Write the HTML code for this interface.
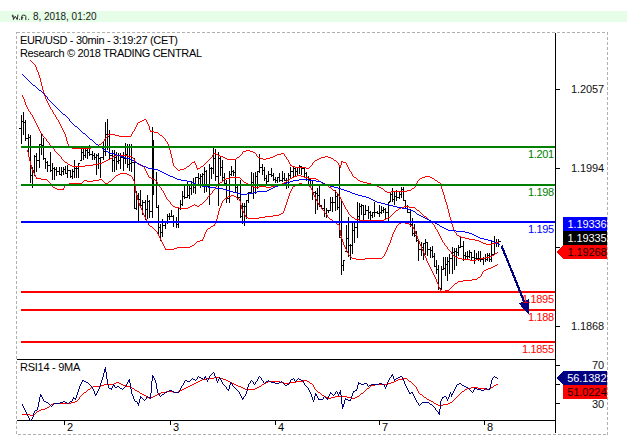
<!DOCTYPE html>
<html><head><meta charset="utf-8"><title>chart</title>
<style>
html,body{margin:0;padding:0;background:#fff;}
body{width:627px;height:448px;overflow:hidden;position:relative;font-family:"Liberation Sans",sans-serif;}
#hdr{position:absolute;left:0;top:11px;width:627px;height:11px;background:#e6fde7;}
#hdr span{position:absolute;left:12px;top:0px;font-size:10px;line-height:11px;color:#222;white-space:nowrap;}
svg{position:absolute;left:0;top:0;}
text{font-family:"Liberation Sans",sans-serif;}
</style></head><body>
<div id="hdr"></div>
<svg width="627" height="448" viewBox="0 0 627 448">
<!-- header date (Thai month abbrev drawn as strokes) -->
<g fill="none" stroke="#2a2a2a" stroke-width="1" stroke-linecap="round" stroke-linejoin="round">
<path d="M13.3 16.2a0.7 0.7 0 1 1 -0.2 -0.9L13.4 19.6L15.3 16.3L17.2 19.6L17.9 15"/>
<path d="M22.9 17.6a0.6 0.6 0 1 0 -0.9 0.6L21.7 19.7V16.4Q21.7 15.1 23.7 15.1Q25.8 15.1 25.8 16.4V19.7"/>
</g>
<g fill="#2a2a2a"><rect x="19.1" y="18.8" width="1" height="1"/><rect x="28.1" y="18.8" width="1" height="1"/></g>
<text x="33" y="19.8" font-size="10px" fill="#1a1a1a" textLength="63.5" lengthAdjust="spacing">8, 2018, 01:20</text>
<!-- dashed frame -->
<g fill="none" stroke="#b0b0b0" stroke-width="1" stroke-dasharray="3,2" shape-rendering="crispEdges">
<path d="M16.5 32.5H607.5V434.5H16.5Z"/>
</g>
<!-- bars -->
<g fill="#000" shape-rendering="crispEdges">
<rect x="21" y="115" width="1" height="29"/>
<rect x="23" y="112" width="1" height="23"/>
<rect x="25" y="120" width="1" height="21"/>
<rect x="28" y="134" width="1" height="23"/>
<rect x="30" y="135" width="1" height="48"/>
<rect x="32" y="167" width="1" height="21"/>
<rect x="34" y="155" width="1" height="21"/>
<rect x="36" y="153" width="1" height="19"/>
<rect x="39" y="144" width="1" height="24"/>
<rect x="41" y="134" width="1" height="21"/>
<rect x="43" y="138" width="1" height="22"/>
<rect x="45" y="158" width="1" height="11"/>
<rect x="47" y="161" width="1" height="11"/>
<rect x="50" y="152" width="1" height="20"/>
<rect x="52" y="163" width="1" height="17"/>
<rect x="54" y="167" width="1" height="13"/>
<rect x="56" y="167" width="1" height="9"/>
<rect x="59" y="167" width="1" height="8"/>
<rect x="61" y="167" width="1" height="9"/>
<rect x="63" y="167" width="1" height="8"/>
<rect x="65" y="166" width="1" height="8"/>
<rect x="67" y="165" width="1" height="13"/>
<rect x="70" y="170" width="1" height="8"/>
<rect x="72" y="169" width="1" height="10"/>
<rect x="74" y="160" width="1" height="18"/>
<rect x="76" y="167" width="1" height="11"/>
<rect x="78" y="163" width="1" height="15"/>
<rect x="81" y="149" width="1" height="12"/>
<rect x="83" y="147" width="1" height="13"/>
<rect x="85" y="148" width="1" height="10"/>
<rect x="87" y="147" width="1" height="12"/>
<rect x="89" y="145" width="1" height="11"/>
<rect x="92" y="151" width="1" height="9"/>
<rect x="94" y="153" width="1" height="7"/>
<rect x="96" y="154" width="1" height="21"/>
<rect x="98" y="153" width="1" height="16"/>
<rect x="100" y="157" width="1" height="21"/>
<rect x="103" y="142" width="1" height="18"/>
<rect x="105" y="122" width="1" height="34"/>
<rect x="107" y="119" width="1" height="31"/>
<rect x="109" y="130" width="1" height="30"/>
<rect x="112" y="150" width="1" height="22"/>
<rect x="114" y="150" width="1" height="22"/>
<rect x="116" y="152" width="1" height="18"/>
<rect x="118" y="153" width="1" height="11"/>
<rect x="120" y="153" width="1" height="16"/>
<rect x="123" y="152" width="1" height="19"/>
<rect x="125" y="143" width="1" height="21"/>
<rect x="127" y="144" width="1" height="24"/>
<rect x="129" y="144" width="1" height="27"/>
<rect x="131" y="144" width="1" height="28"/>
<rect x="134" y="158" width="1" height="51"/>
<rect x="136" y="191" width="1" height="19"/>
<rect x="138" y="193" width="1" height="28"/>
<rect x="140" y="190" width="1" height="18"/>
<rect x="142" y="200" width="1" height="15"/>
<rect x="145" y="200" width="1" height="20"/>
<rect x="147" y="195" width="1" height="24"/>
<rect x="149" y="200" width="1" height="18"/>
<rect x="152" y="127" width="1" height="91"/>
<rect x="153" y="140" width="1" height="55"/>
<rect x="156" y="172" width="1" height="36"/>
<rect x="158" y="205" width="1" height="31"/>
<rect x="160" y="224" width="1" height="17"/>
<rect x="162" y="219" width="1" height="18"/>
<rect x="165" y="221" width="1" height="8"/>
<rect x="167" y="214" width="1" height="10"/>
<rect x="169" y="213" width="1" height="7"/>
<rect x="171" y="210" width="1" height="7"/>
<rect x="173" y="215" width="1" height="12"/>
<rect x="176" y="217" width="1" height="11"/>
<rect x="178" y="208" width="1" height="20"/>
<rect x="180" y="200" width="1" height="10"/>
<rect x="182" y="191" width="1" height="15"/>
<rect x="184" y="186" width="1" height="13"/>
<rect x="187" y="181" width="1" height="17"/>
<rect x="189" y="185" width="1" height="14"/>
<rect x="191" y="181" width="1" height="14"/>
<rect x="193" y="178" width="1" height="15"/>
<rect x="195" y="177" width="1" height="17"/>
<rect x="198" y="173" width="1" height="11"/>
<rect x="200" y="174" width="1" height="14"/>
<rect x="202" y="173" width="1" height="11"/>
<rect x="204" y="167" width="1" height="26"/>
<rect x="206" y="170" width="1" height="22"/>
<rect x="209" y="164" width="1" height="41"/>
<rect x="211" y="167" width="1" height="12"/>
<rect x="213" y="148" width="1" height="26"/>
<rect x="215" y="149" width="1" height="32"/>
<rect x="218" y="152" width="1" height="54"/>
<rect x="220" y="156" width="1" height="20"/>
<rect x="222" y="160" width="1" height="21"/>
<rect x="224" y="173" width="1" height="11"/>
<rect x="226" y="180" width="1" height="23"/>
<rect x="229" y="171" width="1" height="32"/>
<rect x="231" y="166" width="1" height="10"/>
<rect x="233" y="170" width="1" height="6"/>
<rect x="235" y="159" width="1" height="33"/>
<rect x="237" y="185" width="1" height="15"/>
<rect x="240" y="180" width="1" height="38"/>
<rect x="242" y="203" width="1" height="21"/>
<rect x="244" y="203" width="1" height="23"/>
<rect x="246" y="200" width="1" height="19"/>
<rect x="248" y="192" width="1" height="11"/>
<rect x="251" y="172" width="1" height="21"/>
<rect x="253" y="173" width="1" height="26"/>
<rect x="255" y="172" width="1" height="22"/>
<rect x="257" y="171" width="1" height="18"/>
<rect x="259" y="154" width="1" height="19"/>
<rect x="262" y="164" width="1" height="11"/>
<rect x="264" y="167" width="1" height="14"/>
<rect x="266" y="175" width="1" height="9"/>
<rect x="268" y="171" width="1" height="11"/>
<rect x="271" y="168" width="1" height="9"/>
<rect x="273" y="173" width="1" height="8"/>
<rect x="275" y="177" width="1" height="6"/>
<rect x="277" y="177" width="1" height="6"/>
<rect x="279" y="173" width="1" height="9"/>
<rect x="282" y="171" width="1" height="11"/>
<rect x="284" y="173" width="1" height="8"/>
<rect x="286" y="178" width="1" height="11"/>
<rect x="288" y="173" width="1" height="15"/>
<rect x="290" y="167" width="1" height="12"/>
<rect x="293" y="167" width="1" height="11"/>
<rect x="295" y="167" width="1" height="9"/>
<rect x="297" y="167" width="1" height="8"/>
<rect x="299" y="165" width="1" height="9"/>
<rect x="301" y="166" width="1" height="9"/>
<rect x="304" y="167" width="1" height="11"/>
<rect x="306" y="172" width="1" height="9"/>
<rect x="308" y="176" width="1" height="8"/>
<rect x="310" y="179" width="1" height="5"/>
<rect x="312" y="180" width="1" height="20"/>
<rect x="315" y="191" width="1" height="23"/>
<rect x="317" y="188" width="1" height="22"/>
<rect x="319" y="185" width="1" height="22"/>
<rect x="321" y="205" width="1" height="4"/>
<rect x="324" y="199" width="1" height="18"/>
<rect x="326" y="208" width="1" height="10"/>
<rect x="328" y="210" width="1" height="3"/>
<rect x="330" y="197" width="1" height="14"/>
<rect x="332" y="197" width="1" height="15"/>
<rect x="335" y="190" width="1" height="21"/>
<rect x="337" y="194" width="1" height="16"/>
<rect x="339" y="167" width="1" height="71"/>
<rect x="341" y="199" width="1" height="76"/>
<rect x="343" y="260" width="1" height="11"/>
<rect x="346" y="225" width="1" height="27"/>
<rect x="348" y="217" width="1" height="40"/>
<rect x="350" y="244" width="1" height="16"/>
<rect x="352" y="223" width="1" height="31"/>
<rect x="354" y="223" width="1" height="20"/>
<rect x="357" y="202" width="1" height="36"/>
<rect x="359" y="203" width="1" height="17"/>
<rect x="361" y="204" width="1" height="11"/>
<rect x="363" y="205" width="1" height="15"/>
<rect x="365" y="205" width="1" height="10"/>
<rect x="368" y="206" width="1" height="13"/>
<rect x="370" y="211" width="1" height="9"/>
<rect x="372" y="212" width="1" height="6"/>
<rect x="374" y="202" width="1" height="15"/>
<rect x="377" y="211" width="1" height="3"/>
<rect x="379" y="205" width="1" height="12"/>
<rect x="381" y="206" width="1" height="8"/>
<rect x="383" y="207" width="1" height="6"/>
<rect x="385" y="208" width="1" height="12"/>
<rect x="388" y="202" width="1" height="19"/>
<rect x="390" y="192" width="1" height="10"/>
<rect x="392" y="188" width="1" height="14"/>
<rect x="394" y="191" width="1" height="14"/>
<rect x="396" y="190" width="1" height="11"/>
<rect x="399" y="192" width="1" height="7"/>
<rect x="401" y="187" width="1" height="11"/>
<rect x="403" y="187" width="1" height="14"/>
<rect x="405" y="200" width="1" height="9"/>
<rect x="407" y="205" width="1" height="8"/>
<rect x="410" y="209" width="1" height="18"/>
<rect x="412" y="218" width="1" height="18"/>
<rect x="414" y="224" width="1" height="13"/>
<rect x="416" y="231" width="1" height="11"/>
<rect x="418" y="240" width="1" height="21"/>
<rect x="421" y="242" width="1" height="14"/>
<rect x="423" y="243" width="1" height="17"/>
<rect x="425" y="239" width="1" height="16"/>
<rect x="427" y="242" width="1" height="14"/>
<rect x="430" y="247" width="1" height="11"/>
<rect x="432" y="246" width="1" height="12"/>
<rect x="434" y="253" width="1" height="14"/>
<rect x="436" y="260" width="1" height="14"/>
<rect x="438" y="265" width="1" height="25"/>
<rect x="441" y="266" width="1" height="24"/>
<rect x="443" y="257" width="1" height="13"/>
<rect x="445" y="257" width="1" height="19"/>
<rect x="447" y="257" width="1" height="24"/>
<rect x="449" y="254" width="1" height="20"/>
<rect x="452" y="247" width="1" height="27"/>
<rect x="454" y="248" width="1" height="22"/>
<rect x="456" y="248" width="1" height="18"/>
<rect x="458" y="245" width="1" height="11"/>
<rect x="460" y="237" width="1" height="11"/>
<rect x="463" y="241" width="1" height="20"/>
<rect x="465" y="252" width="1" height="8"/>
<rect x="467" y="251" width="1" height="8"/>
<rect x="469" y="250" width="1" height="8"/>
<rect x="471" y="252" width="1" height="8"/>
<rect x="474" y="250" width="1" height="14"/>
<rect x="476" y="253" width="1" height="7"/>
<rect x="478" y="251" width="1" height="10"/>
<rect x="480" y="251" width="1" height="11"/>
<rect x="483" y="257" width="1" height="8"/>
<rect x="485" y="254" width="1" height="8"/>
<rect x="487" y="253" width="1" height="8"/>
<rect x="489" y="253" width="1" height="9"/>
<rect x="491" y="241" width="1" height="21"/>
<rect x="494" y="236" width="1" height="19"/>
<rect x="496" y="239" width="1" height="8"/>
<rect x="498" y="239" width="1" height="8"/>
<rect x="19" y="128" width="2" height="1"/>
<rect x="22" y="121" width="1" height="1"/>
<rect x="24" y="122" width="1" height="1"/>
<rect x="26" y="138" width="2" height="1"/>
<rect x="29" y="137" width="1" height="1"/>
<rect x="31" y="175" width="1" height="1"/>
<rect x="33" y="170" width="1" height="1"/>
<rect x="35" y="156" width="1" height="1"/>
<rect x="37" y="160" width="2" height="1"/>
<rect x="40" y="144" width="1" height="1"/>
<rect x="42" y="145" width="1" height="1"/>
<rect x="44" y="158" width="1" height="1"/>
<rect x="46" y="162" width="1" height="1"/>
<rect x="48" y="165" width="2" height="1"/>
<rect x="51" y="170" width="1" height="1"/>
<rect x="53" y="168" width="1" height="1"/>
<rect x="55" y="169" width="1" height="1"/>
<rect x="57" y="171" width="2" height="1"/>
<rect x="60" y="174" width="1" height="1"/>
<rect x="62" y="171" width="1" height="1"/>
<rect x="64" y="169" width="1" height="1"/>
<rect x="66" y="173" width="1" height="1"/>
<rect x="68" y="170" width="2" height="1"/>
<rect x="71" y="176" width="1" height="1"/>
<rect x="73" y="171" width="1" height="1"/>
<rect x="75" y="168" width="1" height="1"/>
<rect x="77" y="168" width="1" height="1"/>
<rect x="79" y="163" width="1" height="1"/>
<rect x="80" y="160" width="1" height="1"/>
<rect x="82" y="152" width="1" height="1"/>
<rect x="84" y="155" width="1" height="1"/>
<rect x="86" y="150" width="1" height="1"/>
<rect x="88" y="152" width="1" height="1"/>
<rect x="90" y="154" width="2" height="1"/>
<rect x="93" y="155" width="1" height="1"/>
<rect x="95" y="157" width="1" height="1"/>
<rect x="97" y="155" width="1" height="1"/>
<rect x="99" y="158" width="1" height="1"/>
<rect x="101" y="157" width="2" height="1"/>
<rect x="104" y="151" width="1" height="1"/>
<rect x="106" y="134" width="1" height="1"/>
<rect x="108" y="136" width="1" height="1"/>
<rect x="110" y="155" width="2" height="1"/>
<rect x="113" y="160" width="1" height="1"/>
<rect x="115" y="157" width="1" height="1"/>
<rect x="117" y="161" width="1" height="1"/>
<rect x="119" y="160" width="1" height="1"/>
<rect x="121" y="157" width="2" height="1"/>
<rect x="124" y="158" width="1" height="1"/>
<rect x="126" y="154" width="1" height="1"/>
<rect x="128" y="164" width="1" height="1"/>
<rect x="130" y="163" width="1" height="1"/>
<rect x="132" y="162" width="2" height="1"/>
<rect x="135" y="208" width="1" height="1"/>
<rect x="137" y="195" width="1" height="1"/>
<rect x="139" y="199" width="1" height="1"/>
<rect x="141" y="205" width="1" height="1"/>
<rect x="143" y="202" width="2" height="1"/>
<rect x="146" y="209" width="1" height="1"/>
<rect x="148" y="201" width="1" height="1"/>
<rect x="150" y="211" width="2" height="1"/>
<rect x="153" y="181" width="0" height="1"/>
<rect x="154" y="185" width="2" height="1"/>
<rect x="157" y="207" width="1" height="1"/>
<rect x="159" y="227" width="1" height="1"/>
<rect x="161" y="232" width="1" height="1"/>
<rect x="163" y="225" width="2" height="1"/>
<rect x="166" y="222" width="1" height="1"/>
<rect x="168" y="216" width="1" height="1"/>
<rect x="170" y="216" width="1" height="1"/>
<rect x="172" y="216" width="1" height="1"/>
<rect x="174" y="221" width="2" height="1"/>
<rect x="177" y="224" width="1" height="1"/>
<rect x="179" y="208" width="1" height="1"/>
<rect x="181" y="204" width="1" height="1"/>
<rect x="183" y="196" width="1" height="1"/>
<rect x="185" y="197" width="2" height="1"/>
<rect x="188" y="195" width="1" height="1"/>
<rect x="190" y="188" width="1" height="1"/>
<rect x="192" y="185" width="1" height="1"/>
<rect x="194" y="187" width="1" height="1"/>
<rect x="196" y="177" width="2" height="1"/>
<rect x="199" y="178" width="1" height="1"/>
<rect x="201" y="176" width="1" height="1"/>
<rect x="203" y="174" width="1" height="1"/>
<rect x="205" y="171" width="1" height="1"/>
<rect x="207" y="186" width="2" height="1"/>
<rect x="210" y="168" width="1" height="1"/>
<rect x="212" y="168" width="1" height="1"/>
<rect x="214" y="158" width="1" height="1"/>
<rect x="216" y="176" width="2" height="1"/>
<rect x="219" y="158" width="1" height="1"/>
<rect x="221" y="167" width="1" height="1"/>
<rect x="223" y="177" width="1" height="1"/>
<rect x="225" y="183" width="1" height="1"/>
<rect x="227" y="198" width="2" height="1"/>
<rect x="230" y="174" width="1" height="1"/>
<rect x="232" y="171" width="1" height="1"/>
<rect x="234" y="172" width="1" height="1"/>
<rect x="236" y="187" width="1" height="1"/>
<rect x="238" y="197" width="2" height="1"/>
<rect x="241" y="216" width="1" height="1"/>
<rect x="243" y="206" width="1" height="1"/>
<rect x="245" y="206" width="1" height="1"/>
<rect x="247" y="200" width="1" height="1"/>
<rect x="249" y="192" width="2" height="1"/>
<rect x="252" y="182" width="1" height="1"/>
<rect x="254" y="185" width="1" height="1"/>
<rect x="256" y="176" width="1" height="1"/>
<rect x="258" y="171" width="1" height="1"/>
<rect x="260" y="167" width="2" height="1"/>
<rect x="263" y="170" width="1" height="1"/>
<rect x="265" y="178" width="1" height="1"/>
<rect x="267" y="181" width="1" height="1"/>
<rect x="269" y="174" width="2" height="1"/>
<rect x="272" y="175" width="1" height="1"/>
<rect x="274" y="179" width="1" height="1"/>
<rect x="276" y="180" width="1" height="1"/>
<rect x="278" y="177" width="1" height="1"/>
<rect x="280" y="180" width="2" height="1"/>
<rect x="283" y="178" width="1" height="1"/>
<rect x="285" y="180" width="1" height="1"/>
<rect x="287" y="185" width="1" height="1"/>
<rect x="289" y="175" width="1" height="1"/>
<rect x="291" y="171" width="2" height="1"/>
<rect x="294" y="168" width="1" height="1"/>
<rect x="296" y="171" width="1" height="1"/>
<rect x="298" y="167" width="1" height="1"/>
<rect x="300" y="166" width="1" height="1"/>
<rect x="302" y="168" width="2" height="1"/>
<rect x="305" y="173" width="1" height="1"/>
<rect x="307" y="177" width="1" height="1"/>
<rect x="309" y="179" width="1" height="1"/>
<rect x="311" y="180" width="1" height="1"/>
<rect x="313" y="192" width="2" height="1"/>
<rect x="316" y="193" width="1" height="1"/>
<rect x="318" y="195" width="1" height="1"/>
<rect x="320" y="205" width="1" height="1"/>
<rect x="322" y="208" width="2" height="1"/>
<rect x="325" y="213" width="1" height="1"/>
<rect x="327" y="210" width="1" height="1"/>
<rect x="329" y="210" width="1" height="1"/>
<rect x="331" y="202" width="1" height="1"/>
<rect x="333" y="202" width="2" height="1"/>
<rect x="336" y="196" width="1" height="1"/>
<rect x="338" y="207" width="1" height="1"/>
<rect x="340" y="237" width="1" height="1"/>
<rect x="342" y="265" width="1" height="1"/>
<rect x="344" y="260" width="1" height="1"/>
<rect x="345" y="251" width="1" height="1"/>
<rect x="347" y="238" width="1" height="1"/>
<rect x="349" y="245" width="1" height="1"/>
<rect x="351" y="245" width="1" height="1"/>
<rect x="353" y="230" width="1" height="1"/>
<rect x="355" y="227" width="2" height="1"/>
<rect x="358" y="216" width="1" height="1"/>
<rect x="360" y="206" width="1" height="1"/>
<rect x="362" y="205" width="1" height="1"/>
<rect x="364" y="214" width="1" height="1"/>
<rect x="366" y="210" width="2" height="1"/>
<rect x="369" y="212" width="1" height="1"/>
<rect x="371" y="215" width="1" height="1"/>
<rect x="373" y="212" width="1" height="1"/>
<rect x="375" y="212" width="2" height="1"/>
<rect x="378" y="213" width="1" height="1"/>
<rect x="380" y="212" width="1" height="1"/>
<rect x="382" y="210" width="1" height="1"/>
<rect x="384" y="209" width="1" height="1"/>
<rect x="386" y="212" width="2" height="1"/>
<rect x="389" y="202" width="1" height="1"/>
<rect x="389" y="201" width="1" height="1"/>
<rect x="391" y="194" width="1" height="1"/>
<rect x="393" y="199" width="1" height="1"/>
<rect x="395" y="196" width="1" height="1"/>
<rect x="397" y="197" width="2" height="1"/>
<rect x="400" y="194" width="1" height="1"/>
<rect x="402" y="189" width="1" height="1"/>
<rect x="404" y="200" width="1" height="1"/>
<rect x="406" y="208" width="1" height="1"/>
<rect x="408" y="212" width="2" height="1"/>
<rect x="411" y="224" width="1" height="1"/>
<rect x="413" y="233" width="1" height="1"/>
<rect x="415" y="235" width="1" height="1"/>
<rect x="417" y="240" width="1" height="1"/>
<rect x="419" y="249" width="2" height="1"/>
<rect x="422" y="247" width="1" height="1"/>
<rect x="424" y="243" width="1" height="1"/>
<rect x="426" y="242" width="1" height="1"/>
<rect x="428" y="249" width="2" height="1"/>
<rect x="431" y="250" width="1" height="1"/>
<rect x="433" y="256" width="1" height="1"/>
<rect x="435" y="266" width="1" height="1"/>
<rect x="437" y="269" width="1" height="1"/>
<rect x="439" y="288" width="2" height="1"/>
<rect x="442" y="269" width="1" height="1"/>
<rect x="444" y="268" width="1" height="1"/>
<rect x="446" y="264" width="1" height="1"/>
<rect x="448" y="261" width="1" height="1"/>
<rect x="450" y="258" width="2" height="1"/>
<rect x="453" y="252" width="1" height="1"/>
<rect x="455" y="251" width="1" height="1"/>
<rect x="457" y="252" width="1" height="1"/>
<rect x="459" y="247" width="1" height="1"/>
<rect x="461" y="246" width="2" height="1"/>
<rect x="464" y="255" width="1" height="1"/>
<rect x="466" y="256" width="1" height="1"/>
<rect x="468" y="256" width="1" height="1"/>
<rect x="470" y="252" width="1" height="1"/>
<rect x="472" y="257" width="2" height="1"/>
<rect x="475" y="258" width="1" height="1"/>
<rect x="477" y="258" width="1" height="1"/>
<rect x="479" y="258" width="1" height="1"/>
<rect x="481" y="259" width="2" height="1"/>
<rect x="484" y="258" width="1" height="1"/>
<rect x="486" y="259" width="1" height="1"/>
<rect x="488" y="255" width="1" height="1"/>
<rect x="490" y="259" width="1" height="1"/>
<rect x="492" y="254" width="2" height="1"/>
<rect x="495" y="242" width="1" height="1"/>
<rect x="497" y="242" width="1" height="1"/>
<rect x="499" y="241" width="2" height="1"/>
</g>
<!-- curves -->
<g shape-rendering="crispEdges">
<path fill="#ff0000" d="M30 60h1v1h-1zM31 61h1v1h-1zM32 62h1v1h-1zM33 63h1v1h-1zM34 64h1v1h-1zM35 65h1v2h-1zM36 67h1v3h-1zM37 70h1v2h-1zM38 72h1v3h-1zM39 75h1v3h-1zM40 78h1v4h-1zM41 82h1v4h-1zM42 86h1v4h-1zM43 90h1v3h-1zM44 93h1v3h-1zM45 96h1v3h-1zM46 99h1v2h-1zM47 101h1v2h-1zM48 103h1v2h-1zM49 105h1v2h-1zM50 107h1v2h-1zM51 109h1v1h-1zM52 110h1v2h-1zM53 112h1v2h-1zM54 114h1v1h-1zM55 115h1v2h-1zM56 117h1v2h-1zM57 119h1v1h-1zM58 120h1v2h-1zM59 122h1v2h-1zM60 124h1v2h-1zM61 126h1v2h-1zM62 128h1v2h-1zM63 130h1v2h-1zM64 132h1v2h-1zM65 134h1v3h-1zM66 137h1v4h-1zM67 141h1v3h-1zM68 144h1v2h-1zM69 146h1v1h-1zM70 147h1v1h-1zM71 147h1v1h-1zM72 148h1v1h-1zM73 148h1v1h-1zM74 148h1v1h-1zM75 148h1v1h-1zM76 148h1v1h-1zM77 148h1v1h-1zM78 148h1v1h-1zM79 148h1v1h-1zM80 148h1v1h-1zM81 148h1v1h-1zM82 148h1v1h-1zM83 148h1v1h-1zM84 148h1v1h-1zM85 148h1v1h-1zM86 148h1v1h-1zM87 148h1v1h-1zM88 148h1v1h-1zM89 148h1v1h-1zM90 148h1v1h-1zM91 147h1v1h-1zM92 147h1v1h-1zM93 147h1v1h-1zM94 147h1v1h-1zM95 147h1v1h-1zM96 147h1v1h-1zM97 146h1v1h-1zM98 145h1v1h-1zM99 144h1v1h-1zM100 144h1v1h-1zM101 143h1v1h-1zM102 142h1v1h-1zM103 141h1v1h-1zM104 139h1v2h-1zM105 138h1v1h-1zM106 137h1v1h-1zM107 135h1v2h-1zM108 134h1v1h-1zM109 134h1v1h-1zM110 134h1v1h-1zM111 134h1v1h-1zM112 134h1v1h-1zM113 134h1v1h-1zM114 134h1v1h-1zM115 135h1v1h-1zM116 135h1v1h-1zM117 135h1v1h-1zM118 135h1v1h-1zM119 136h1v1h-1zM120 136h1v1h-1zM121 136h1v1h-1zM122 136h1v1h-1zM123 136h1v1h-1zM124 136h1v1h-1zM125 136h1v1h-1zM126 136h1v1h-1zM127 136h1v1h-1zM128 136h1v1h-1zM129 136h1v1h-1zM130 136h1v1h-1zM131 134h1v2h-1zM132 132h1v2h-1zM133 131h1v1h-1zM134 129h1v2h-1zM135 127h1v2h-1zM136 125h1v2h-1zM137 123h1v2h-1zM138 122h1v1h-1zM139 122h1v1h-1zM140 121h1v1h-1zM141 121h1v1h-1zM142 120h1v1h-1zM143 120h1v1h-1zM144 119h1v1h-1zM145 119h1v1h-1zM146 120h1v2h-1zM147 122h1v2h-1zM148 124h1v2h-1zM149 126h1v4h-1zM150 130h1v2h-1zM151 131h1v1h-1zM152 131h1v1h-1zM153 131h1v1h-1zM154 132h1v1h-1zM155 132h1v1h-1zM156 132h1v1h-1zM157 132h1v1h-1zM158 133h1v1h-1zM159 134h1v1h-1zM160 135h1v1h-1zM161 135h1v1h-1zM162 136h1v1h-1zM163 137h1v1h-1zM164 138h1v1h-1zM165 139h1v2h-1zM166 141h1v1h-1zM167 142h1v2h-1zM168 144h1v2h-1zM169 146h1v4h-1zM170 150h1v4h-1zM171 154h1v4h-1zM172 158h1v5h-1zM173 163h1v3h-1zM174 166h1v1h-1zM175 167h1v1h-1zM176 168h1v1h-1zM177 169h1v1h-1zM178 170h1v1h-1zM179 170h1v1h-1zM180 169h1v1h-1zM181 169h1v1h-1zM182 169h1v1h-1zM183 169h1v1h-1zM184 168h1v1h-1zM185 168h1v1h-1zM186 167h1v1h-1zM187 166h1v1h-1zM188 166h1v1h-1zM189 165h1v1h-1zM190 164h1v1h-1zM191 163h1v1h-1zM192 162h1v1h-1zM193 162h1v1h-1zM194 161h1v2h-1zM195 163h1v2h-1zM196 165h1v3h-1zM197 168h1v2h-1zM198 168h1v1h-1zM199 168h1v1h-1zM200 167h1v1h-1zM201 166h1v1h-1zM202 166h1v1h-1zM203 165h1v1h-1zM204 164h1v1h-1zM205 163h1v1h-1zM206 162h1v1h-1zM207 161h1v1h-1zM208 160h1v1h-1zM209 159h1v1h-1zM210 158h1v1h-1zM211 157h1v1h-1zM212 155h1v2h-1zM213 154h1v1h-1zM214 153h1v1h-1zM215 153h1v1h-1zM216 154h1v1h-1zM217 154h1v1h-1zM218 155h1v1h-1zM219 155h1v1h-1zM220 156h1v1h-1zM221 156h1v1h-1zM222 156h1v1h-1zM223 157h1v1h-1zM224 157h1v1h-1zM225 158h1v1h-1zM226 158h1v1h-1zM227 159h1v1h-1zM228 159h1v1h-1zM229 159h1v1h-1zM230 159h1v1h-1zM231 159h1v1h-1zM232 159h1v1h-1zM233 159h1v1h-1zM234 159h1v1h-1zM235 159h1v1h-1zM236 158h1v1h-1zM237 157h1v1h-1zM238 157h1v1h-1zM239 156h1v1h-1zM240 155h1v1h-1zM241 154h1v1h-1zM242 152h1v2h-1zM243 151h1v1h-1zM244 151h1v1h-1zM245 151h1v1h-1zM246 150h1v1h-1zM247 150h1v1h-1zM248 150h1v1h-1zM249 150h1v1h-1zM250 151h1v1h-1zM251 151h1v1h-1zM252 151h1v1h-1zM253 152h1v1h-1zM254 152h1v1h-1zM255 153h1v1h-1zM256 154h1v2h-1zM257 156h1v1h-1zM258 157h1v1h-1zM259 157h1v1h-1zM260 158h1v1h-1zM261 158h1v1h-1zM262 158h1v1h-1zM263 159h1v1h-1zM264 159h1v1h-1zM265 159h1v1h-1zM266 158h1v1h-1zM267 158h1v1h-1zM268 158h1v1h-1zM269 158h1v1h-1zM270 157h1v1h-1zM271 157h1v1h-1zM272 157h1v1h-1zM273 156h1v1h-1zM274 156h1v1h-1zM275 155h1v1h-1zM276 155h1v1h-1zM277 154h1v1h-1zM278 154h1v1h-1zM279 154h1v1h-1zM280 154h1v1h-1zM281 153h1v1h-1zM282 153h1v1h-1zM283 153h1v1h-1zM284 154h1v2h-1zM285 156h1v1h-1zM286 157h1v2h-1zM287 159h1v1h-1zM288 160h1v2h-1zM289 162h1v2h-1zM290 164h1v2h-1zM291 165h1v1h-1zM292 166h1v1h-1zM293 166h1v1h-1zM294 166h1v1h-1zM295 167h1v1h-1zM296 167h1v1h-1zM297 167h1v1h-1zM298 167h1v1h-1zM299 167h1v1h-1zM300 167h1v1h-1zM301 167h1v1h-1zM302 167h1v1h-1zM303 167h1v1h-1zM304 167h1v1h-1zM305 167h1v1h-1zM306 168h1v1h-1zM307 168h1v1h-1zM308 168h1v1h-1zM309 167h1v1h-1zM310 166h1v1h-1zM311 165h1v1h-1zM312 163h1v2h-1zM313 162h1v1h-1zM314 161h1v1h-1zM315 160h1v1h-1zM316 160h1v1h-1zM317 159h1v1h-1zM318 159h1v1h-1zM319 158h1v1h-1zM320 158h1v1h-1zM321 157h1v1h-1zM322 157h1v1h-1zM323 157h1v1h-1zM324 157h1v1h-1zM325 156h1v1h-1zM326 156h1v1h-1zM327 156h1v1h-1zM328 157h1v1h-1zM329 157h1v1h-1zM330 157h1v1h-1zM331 158h1v1h-1zM332 158h1v1h-1zM333 159h1v1h-1zM334 160h1v1h-1zM335 160h1v1h-1zM336 161h1v1h-1zM337 162h1v1h-1zM338 163h1v2h-1zM339 165h1v2h-1zM340 165h1v3h-1zM341 161h1v4h-1zM342 161h1v1h-1zM343 162h1v1h-1zM344 162h1v1h-1zM345 162h1v1h-1zM346 163h1v2h-1zM347 165h1v2h-1zM348 167h1v2h-1zM349 169h1v2h-1zM350 171h1v1h-1zM351 172h1v2h-1zM352 174h1v2h-1zM353 176h1v1h-1zM354 177h1v1h-1zM355 177h1v1h-1zM356 178h1v1h-1zM357 179h1v1h-1zM358 180h1v1h-1zM359 180h1v1h-1zM360 181h1v1h-1zM361 181h1v1h-1zM362 181h1v1h-1zM363 182h1v1h-1zM364 182h1v1h-1zM365 182h1v1h-1zM366 182h1v1h-1zM367 183h1v1h-1zM368 183h1v1h-1zM369 183h1v1h-1zM370 183h1v1h-1zM371 184h1v1h-1zM372 184h1v1h-1zM373 184h1v1h-1zM374 185h1v1h-1zM375 185h1v1h-1zM376 185h1v1h-1zM377 186h1v1h-1zM378 186h1v1h-1zM379 187h1v1h-1zM380 187h1v1h-1zM381 188h1v1h-1zM382 188h1v1h-1zM383 189h1v1h-1zM384 190h1v1h-1zM385 191h1v1h-1zM386 191h1v1h-1zM387 192h1v1h-1zM388 192h1v1h-1zM389 192h1v1h-1zM390 192h1v1h-1zM391 191h1v1h-1zM392 191h1v1h-1zM393 191h1v1h-1zM394 191h1v1h-1zM395 191h1v1h-1zM396 191h1v1h-1zM397 191h1v1h-1zM398 191h1v1h-1zM399 191h1v1h-1zM400 191h1v1h-1zM401 191h1v1h-1zM402 191h1v1h-1zM403 191h1v1h-1zM404 191h1v1h-1zM405 191h1v1h-1zM406 191h1v1h-1zM407 190h1v1h-1zM408 190h1v1h-1zM409 190h1v1h-1zM410 190h1v1h-1zM411 189h1v1h-1zM412 188h1v1h-1zM413 188h1v1h-1zM414 187h1v1h-1zM415 185h1v2h-1zM416 183h1v2h-1zM417 181h1v2h-1zM418 180h1v1h-1zM419 179h1v1h-1zM420 178h1v1h-1zM421 178h1v1h-1zM422 177h1v1h-1zM423 177h1v1h-1zM424 177h1v1h-1zM425 176h1v1h-1zM426 176h1v1h-1zM427 176h1v1h-1zM428 176h1v1h-1zM429 176h1v1h-1zM430 177h1v1h-1zM431 177h1v1h-1zM432 178h1v1h-1zM433 178h1v1h-1zM434 179h1v1h-1zM435 180h1v1h-1zM436 180h1v1h-1zM437 181h1v1h-1zM438 182h1v1h-1zM439 182h1v1h-1zM440 183h1v2h-1zM441 185h1v4h-1zM442 189h1v3h-1zM443 192h1v3h-1zM444 195h1v4h-1zM445 199h1v3h-1zM446 202h1v3h-1zM447 205h1v4h-1zM448 209h1v4h-1zM449 213h1v4h-1zM450 217h1v3h-1zM451 220h1v4h-1zM452 224h1v3h-1zM453 227h1v3h-1zM454 230h1v2h-1zM455 232h1v1h-1zM456 233h1v2h-1zM457 235h1v1h-1zM458 235h1v1h-1zM459 236h1v1h-1zM460 236h1v1h-1zM461 237h1v1h-1zM462 237h1v1h-1zM463 237h1v1h-1zM464 237h1v1h-1zM465 238h1v1h-1zM466 238h1v1h-1zM467 238h1v1h-1zM468 238h1v1h-1zM469 239h1v1h-1zM470 239h1v1h-1zM471 239h1v1h-1zM472 239h1v1h-1zM473 239h1v1h-1zM474 239h1v1h-1zM475 240h1v1h-1zM476 240h1v1h-1zM477 240h1v1h-1zM478 240h1v1h-1zM479 241h1v1h-1zM480 241h1v1h-1zM481 242h1v1h-1zM482 242h1v1h-1zM483 243h1v1h-1zM484 243h1v1h-1zM485 243h1v1h-1zM486 244h1v1h-1zM487 244h1v1h-1zM488 244h1v1h-1zM489 244h1v1h-1zM490 244h1v1h-1zM491 244h1v1h-1zM492 243h1v1h-1zM493 243h1v1h-1zM494 243h1v1h-1zM495 243h1v1h-1zM496 242h1v1h-1zM497 242h1v1h-1zM498 242h1v1h-1z"/>
<path fill="#ff0000" d="M22 95h1v2h-1zM23 97h1v2h-1zM24 99h1v3h-1zM25 102h1v3h-1zM26 105h1v2h-1zM27 107h1v2h-1zM28 109h1v2h-1zM29 111h1v1h-1zM30 112h1v2h-1zM31 114h1v1h-1zM32 115h1v2h-1zM33 117h1v2h-1zM34 119h1v2h-1zM35 121h1v2h-1zM36 123h1v2h-1zM37 125h1v2h-1zM38 127h1v2h-1zM39 129h1v2h-1zM40 131h1v2h-1zM41 133h1v1h-1zM42 134h1v2h-1zM43 136h1v1h-1zM44 137h1v1h-1zM45 138h1v1h-1zM46 139h1v2h-1zM47 141h1v1h-1zM48 142h1v1h-1zM49 143h1v2h-1zM50 145h1v1h-1zM51 146h1v1h-1zM52 147h1v1h-1zM53 148h1v1h-1zM54 149h1v2h-1zM55 151h1v1h-1zM56 152h1v1h-1zM57 153h1v1h-1zM58 154h1v1h-1zM59 155h1v1h-1zM60 156h1v1h-1zM61 157h1v2h-1zM62 159h1v1h-1zM63 160h1v1h-1zM64 161h1v1h-1zM65 162h1v1h-1zM66 162h1v1h-1zM67 163h1v1h-1zM68 164h1v1h-1zM69 164h1v1h-1zM70 165h1v1h-1zM71 165h1v1h-1zM72 166h1v1h-1zM73 166h1v1h-1zM74 166h1v1h-1zM75 166h1v1h-1zM76 166h1v1h-1zM77 166h1v1h-1zM78 166h1v1h-1zM79 166h1v1h-1zM80 166h1v1h-1zM81 166h1v1h-1zM82 166h1v1h-1zM83 166h1v1h-1zM84 166h1v1h-1zM85 165h1v1h-1zM86 165h1v1h-1zM87 165h1v1h-1zM88 165h1v1h-1zM89 165h1v1h-1zM90 165h1v1h-1zM91 165h1v1h-1zM92 165h1v1h-1zM93 164h1v1h-1zM94 164h1v1h-1zM95 164h1v1h-1zM96 164h1v1h-1zM97 164h1v1h-1zM98 163h1v1h-1zM99 163h1v1h-1zM100 163h1v1h-1zM101 163h1v1h-1zM102 162h1v1h-1zM103 162h1v1h-1zM104 161h1v1h-1zM105 161h1v1h-1zM106 160h1v1h-1zM107 160h1v1h-1zM108 159h1v1h-1zM109 159h1v1h-1zM110 158h1v1h-1zM111 158h1v1h-1zM112 157h1v1h-1zM113 156h1v1h-1zM114 156h1v1h-1zM115 155h1v1h-1zM116 155h1v1h-1zM117 155h1v1h-1zM118 155h1v1h-1zM119 155h1v1h-1zM120 155h1v1h-1zM121 155h1v1h-1zM122 155h1v1h-1zM123 155h1v1h-1zM124 155h1v1h-1zM125 155h1v1h-1zM126 155h1v1h-1zM127 155h1v1h-1zM128 156h1v1h-1zM129 156h1v1h-1zM130 156h1v1h-1zM131 156h1v1h-1zM132 157h1v1h-1zM133 158h1v1h-1zM134 159h1v2h-1zM135 161h1v1h-1zM136 162h1v1h-1zM137 163h1v1h-1zM138 164h1v1h-1zM139 164h1v1h-1zM140 165h1v1h-1zM141 165h1v1h-1zM142 166h1v1h-1zM143 166h1v1h-1zM144 167h1v2h-1zM145 169h1v2h-1zM146 171h1v2h-1zM147 173h1v2h-1zM148 175h1v2h-1zM149 177h1v1h-1zM150 177h1v1h-1zM151 178h1v1h-1zM152 178h1v1h-1zM153 179h1v1h-1zM154 179h1v1h-1zM155 180h1v1h-1zM156 181h1v1h-1zM157 182h1v2h-1zM158 184h1v1h-1zM159 185h1v2h-1zM160 187h1v1h-1zM161 188h1v2h-1zM162 190h1v1h-1zM163 191h1v2h-1zM164 193h1v2h-1zM165 195h1v2h-1zM166 197h1v2h-1zM167 199h1v1h-1zM168 200h1v1h-1zM169 201h1v1h-1zM170 202h1v2h-1zM171 204h1v1h-1zM172 205h1v1h-1zM173 206h1v1h-1zM174 206h1v1h-1zM175 207h1v1h-1zM176 207h1v1h-1zM177 207h1v1h-1zM178 207h1v1h-1zM179 208h1v1h-1zM180 208h1v1h-1zM181 208h1v1h-1zM182 208h1v1h-1zM183 208h1v1h-1zM184 208h1v1h-1zM185 208h1v1h-1zM186 208h1v1h-1zM187 208h1v1h-1zM188 207h1v1h-1zM189 207h1v1h-1zM190 206h1v1h-1zM191 206h1v1h-1zM192 205h1v1h-1zM193 205h1v1h-1zM194 204h1v1h-1zM195 205h1v1h-1zM196 205h1v1h-1zM197 206h1v1h-1zM198 206h1v1h-1zM199 205h1v1h-1zM200 204h1v1h-1zM201 204h1v1h-1zM202 203h1v1h-1zM203 202h1v1h-1zM204 201h1v1h-1zM205 200h1v1h-1zM206 199h1v1h-1zM207 197h1v2h-1zM208 196h1v1h-1zM209 195h1v1h-1zM210 194h1v1h-1zM211 193h1v1h-1zM212 191h1v2h-1zM213 190h1v1h-1zM214 189h1v1h-1zM215 187h1v2h-1zM216 186h1v1h-1zM217 185h1v1h-1zM218 184h1v1h-1zM219 183h1v1h-1zM220 182h1v1h-1zM221 182h1v1h-1zM222 181h1v1h-1zM223 180h1v1h-1zM224 179h1v1h-1zM225 179h1v1h-1zM226 178h1v1h-1zM227 178h1v1h-1zM228 178h1v1h-1zM229 178h1v1h-1zM230 177h1v1h-1zM231 177h1v1h-1zM232 177h1v1h-1zM233 177h1v1h-1zM234 177h1v1h-1zM235 177h1v1h-1zM236 177h1v1h-1zM237 177h1v1h-1zM238 177h1v1h-1zM239 177h1v1h-1zM240 178h1v1h-1zM241 179h1v1h-1zM242 180h1v1h-1zM243 181h1v1h-1zM244 182h1v1h-1zM245 182h1v1h-1zM246 183h1v1h-1zM247 183h1v1h-1zM248 184h1v1h-1zM249 184h1v1h-1zM250 185h1v1h-1zM251 185h1v1h-1zM252 186h1v1h-1zM253 186h1v1h-1zM254 187h1v1h-1zM255 187h1v1h-1zM256 187h1v1h-1zM257 187h1v1h-1zM258 187h1v1h-1zM259 186h1v1h-1zM260 186h1v1h-1zM261 186h1v1h-1zM262 186h1v1h-1zM263 186h1v1h-1zM264 186h1v1h-1zM265 186h1v1h-1zM266 187h1v1h-1zM267 187h1v1h-1zM268 187h1v1h-1zM269 187h1v1h-1zM270 187h1v1h-1zM271 186h1v1h-1zM272 186h1v1h-1zM273 186h1v1h-1zM274 186h1v1h-1zM275 185h1v1h-1zM276 185h1v1h-1zM277 185h1v1h-1zM278 184h1v1h-1zM279 184h1v1h-1zM280 184h1v1h-1zM281 184h1v1h-1zM282 183h1v1h-1zM283 183h1v1h-1zM284 182h1v1h-1zM285 182h1v1h-1zM286 181h1v1h-1zM287 180h1v1h-1zM288 180h1v1h-1zM289 179h1v1h-1zM290 178h1v1h-1zM291 178h1v1h-1zM292 177h1v1h-1zM293 177h1v1h-1zM294 176h1v1h-1zM295 176h1v1h-1zM296 176h1v1h-1zM297 175h1v1h-1zM298 175h1v1h-1zM299 175h1v1h-1zM300 175h1v1h-1zM301 176h1v1h-1zM302 176h1v1h-1zM303 176h1v1h-1zM304 177h1v1h-1zM305 177h1v1h-1zM306 177h1v1h-1zM307 177h1v1h-1zM308 178h1v1h-1zM309 178h1v1h-1zM310 178h1v1h-1zM311 178h1v1h-1zM312 178h1v1h-1zM313 178h1v1h-1zM314 178h1v1h-1zM315 178h1v1h-1zM316 179h1v1h-1zM317 179h1v1h-1zM318 180h1v1h-1zM319 181h1v1h-1zM320 181h1v1h-1zM321 182h1v1h-1zM322 183h1v1h-1zM323 183h1v1h-1zM324 184h1v1h-1zM325 184h1v1h-1zM326 185h1v1h-1zM327 185h1v1h-1zM328 186h1v1h-1zM329 187h1v1h-1zM330 187h1v1h-1zM331 188h1v1h-1zM332 189h1v1h-1zM333 190h1v1h-1zM334 190h1v1h-1zM335 191h1v1h-1zM336 192h1v1h-1zM337 193h1v1h-1zM338 194h1v2h-1zM339 196h1v1h-1zM340 197h1v2h-1zM341 199h1v2h-1zM342 201h1v2h-1zM343 203h1v2h-1zM344 205h1v2h-1zM345 207h1v2h-1zM346 209h1v1h-1zM347 210h1v2h-1zM348 212h1v2h-1zM349 214h1v1h-1zM350 215h1v1h-1zM351 216h1v1h-1zM352 217h1v1h-1zM353 217h1v1h-1zM354 218h1v1h-1zM355 219h1v1h-1zM356 219h1v1h-1zM357 219h1v1h-1zM358 219h1v1h-1zM359 220h1v1h-1zM360 220h1v1h-1zM361 220h1v1h-1zM362 220h1v1h-1zM363 220h1v1h-1zM364 220h1v1h-1zM365 220h1v1h-1zM366 220h1v1h-1zM367 220h1v1h-1zM368 220h1v1h-1zM369 220h1v1h-1zM370 220h1v1h-1zM371 220h1v1h-1zM372 220h1v1h-1zM373 220h1v1h-1zM374 220h1v1h-1zM375 220h1v1h-1zM376 220h1v1h-1zM377 220h1v1h-1zM378 220h1v1h-1zM379 220h1v1h-1zM380 220h1v1h-1zM381 220h1v1h-1zM382 220h1v1h-1zM383 220h1v1h-1zM384 219h1v1h-1zM385 219h1v1h-1zM386 218h1v1h-1zM387 218h1v1h-1zM388 217h1v1h-1zM389 217h1v1h-1zM390 216h1v1h-1zM391 215h1v1h-1zM392 214h1v1h-1zM393 213h1v1h-1zM394 212h1v1h-1zM395 211h1v1h-1zM396 210h1v1h-1zM397 210h1v1h-1zM398 209h1v1h-1zM399 208h1v1h-1zM400 208h1v1h-1zM401 207h1v1h-1zM402 207h1v1h-1zM403 207h1v1h-1zM404 206h1v1h-1zM405 206h1v1h-1zM406 206h1v1h-1zM407 206h1v1h-1zM408 206h1v1h-1zM409 207h1v1h-1zM410 207h1v1h-1zM411 207h1v1h-1zM412 207h1v1h-1zM413 207h1v1h-1zM414 207h1v1h-1zM415 208h1v1h-1zM416 209h1v1h-1zM417 210h1v1h-1zM418 210h1v1h-1zM419 211h1v1h-1zM420 212h1v1h-1zM421 213h1v1h-1zM422 214h1v1h-1zM423 215h1v1h-1zM424 216h1v1h-1zM425 216h1v1h-1zM426 217h1v1h-1zM427 218h1v1h-1zM428 219h1v1h-1zM429 220h1v1h-1zM430 221h1v1h-1zM431 222h1v1h-1zM432 223h1v1h-1zM433 224h1v1h-1zM434 225h1v2h-1zM435 227h1v2h-1zM436 229h1v1h-1zM437 230h1v2h-1zM438 232h1v2h-1zM439 234h1v2h-1zM440 236h1v2h-1zM441 238h1v2h-1zM442 240h1v2h-1zM443 242h1v1h-1zM444 243h1v2h-1zM445 245h1v1h-1zM446 246h1v1h-1zM447 247h1v2h-1zM448 249h1v1h-1zM449 250h1v1h-1zM450 251h1v1h-1zM451 252h1v2h-1zM452 254h1v1h-1zM453 255h1v1h-1zM454 256h1v1h-1zM455 256h1v1h-1zM456 257h1v1h-1zM457 257h1v1h-1zM458 258h1v1h-1zM459 258h1v1h-1zM460 258h1v1h-1zM461 258h1v1h-1zM462 259h1v1h-1zM463 259h1v1h-1zM464 259h1v1h-1zM465 259h1v1h-1zM466 259h1v1h-1zM467 259h1v1h-1zM468 259h1v1h-1zM469 259h1v1h-1zM470 260h1v1h-1zM471 260h1v1h-1zM472 260h1v1h-1zM473 260h1v1h-1zM474 260h1v1h-1zM475 260h1v1h-1zM476 259h1v1h-1zM477 259h1v1h-1zM478 259h1v1h-1zM479 259h1v1h-1zM480 258h1v1h-1zM481 258h1v1h-1zM482 258h1v1h-1zM483 258h1v1h-1zM484 258h1v1h-1zM485 257h1v1h-1zM486 257h1v1h-1zM487 257h1v1h-1zM488 257h1v1h-1zM489 257h1v1h-1zM490 256h1v1h-1zM491 256h1v1h-1zM492 255h1v1h-1zM493 255h1v1h-1zM494 254h1v1h-1zM495 253h1v1h-1zM496 253h1v1h-1zM497 252h1v1h-1z"/>
<path fill="#ff0000" d="M27 150h1v2h-1zM28 152h1v5h-1zM29 157h1v4h-1zM30 161h1v4h-1zM31 165h1v4h-1zM32 169h1v2h-1zM33 171h1v2h-1zM34 173h1v2h-1zM35 175h1v2h-1zM36 177h1v2h-1zM37 178h1v1h-1zM38 178h1v1h-1zM39 178h1v1h-1zM40 178h1v1h-1zM41 179h1v1h-1zM42 179h1v1h-1zM43 179h1v1h-1zM44 179h1v1h-1zM45 179h1v1h-1zM46 179h1v1h-1zM47 180h1v1h-1zM48 181h1v1h-1zM49 182h1v1h-1zM50 183h1v1h-1zM51 184h1v2h-1zM52 186h1v1h-1zM53 187h1v1h-1zM54 187h1v1h-1zM55 188h1v1h-1zM56 188h1v1h-1zM57 189h1v1h-1zM58 189h1v1h-1zM59 189h1v1h-1zM60 189h1v1h-1zM61 189h1v1h-1zM62 189h1v1h-1zM63 188h1v2h-1zM64 186h1v2h-1zM65 185h1v1h-1zM66 185h1v1h-1zM67 184h1v1h-1zM68 184h1v1h-1zM69 183h1v1h-1zM70 183h1v1h-1zM71 183h1v1h-1zM72 183h1v1h-1zM73 183h1v1h-1zM74 183h1v1h-1zM75 183h1v1h-1zM76 183h1v1h-1zM77 183h1v1h-1zM78 183h1v1h-1zM79 183h1v1h-1zM80 183h1v1h-1zM81 183h1v1h-1zM82 182h1v1h-1zM83 181h1v1h-1zM84 180h1v1h-1zM85 180h1v1h-1zM86 180h1v1h-1zM87 181h1v1h-1zM88 181h1v1h-1zM89 181h1v1h-1zM90 181h1v1h-1zM91 181h1v1h-1zM92 181h1v1h-1zM93 180h1v1h-1zM94 180h1v1h-1zM95 180h1v1h-1zM96 180h1v1h-1zM97 180h1v1h-1zM98 180h1v1h-1zM99 179h1v1h-1zM100 179h1v1h-1zM101 179h1v1h-1zM102 180h1v1h-1zM103 181h1v1h-1zM104 182h1v1h-1zM105 183h1v1h-1zM106 183h1v1h-1zM107 183h1v1h-1zM108 182h1v1h-1zM109 181h1v1h-1zM110 181h1v1h-1zM111 180h1v1h-1zM112 179h1v1h-1zM113 178h1v1h-1zM114 177h1v1h-1zM115 176h1v1h-1zM116 175h1v1h-1zM117 175h1v1h-1zM118 174h1v1h-1zM119 174h1v1h-1zM120 173h1v1h-1zM121 173h1v1h-1zM122 173h1v1h-1zM123 173h1v1h-1zM124 173h1v1h-1zM125 173h1v1h-1zM126 173h1v1h-1zM127 174h1v1h-1zM128 174h1v1h-1zM129 175h1v1h-1zM130 175h1v1h-1zM131 176h1v1h-1zM132 177h1v2h-1zM133 179h1v2h-1zM134 181h1v5h-1zM135 186h1v7h-1zM136 193h1v3h-1zM137 196h1v4h-1zM138 200h1v3h-1zM139 203h1v3h-1zM140 206h1v2h-1zM141 208h1v2h-1zM142 210h1v3h-1zM143 213h1v2h-1zM144 215h1v2h-1zM145 217h1v2h-1zM146 219h1v2h-1zM147 221h1v2h-1zM148 223h1v2h-1zM149 225h1v1h-1zM150 226h1v1h-1zM151 226h1v1h-1zM152 227h1v1h-1zM153 228h1v1h-1zM154 229h1v1h-1zM155 230h1v1h-1zM156 231h1v1h-1zM157 232h1v2h-1zM158 234h1v2h-1zM159 236h1v2h-1zM160 238h1v2h-1zM161 240h1v2h-1zM162 242h1v2h-1zM163 244h1v2h-1zM164 246h1v2h-1zM165 248h1v2h-1zM166 249h1v1h-1zM167 249h1v1h-1zM168 249h1v1h-1zM169 249h1v1h-1zM170 249h1v1h-1zM171 249h1v1h-1zM172 249h1v1h-1zM173 249h1v1h-1zM174 248h1v1h-1zM175 248h1v1h-1zM176 248h1v1h-1zM177 247h1v1h-1zM178 247h1v1h-1zM179 247h1v1h-1zM180 247h1v1h-1zM181 247h1v1h-1zM182 247h1v1h-1zM183 247h1v1h-1zM184 247h1v1h-1zM185 247h1v1h-1zM186 247h1v1h-1zM187 247h1v1h-1zM188 247h1v1h-1zM189 247h1v1h-1zM190 246h1v1h-1zM191 246h1v1h-1zM192 245h1v1h-1zM193 245h1v1h-1zM194 244h1v1h-1zM195 243h1v1h-1zM196 242h1v1h-1zM197 241h1v1h-1zM198 241h1v1h-1zM199 241h1v1h-1zM200 240h1v1h-1zM201 240h1v1h-1zM202 239h1v2h-1zM203 237h1v2h-1zM204 234h1v3h-1zM205 232h1v2h-1zM206 230h1v2h-1zM207 229h1v1h-1zM208 228h1v1h-1zM209 228h1v1h-1zM210 227h1v1h-1zM211 226h1v1h-1zM212 226h1v1h-1zM213 225h1v1h-1zM214 224h1v2h-1zM215 222h1v2h-1zM216 219h1v3h-1zM217 215h1v4h-1zM218 211h1v4h-1zM219 208h1v3h-1zM220 206h1v2h-1zM221 203h1v3h-1zM222 201h1v2h-1zM223 200h1v1h-1zM224 199h1v1h-1zM225 198h1v1h-1zM226 198h1v1h-1zM227 197h1v1h-1zM228 196h1v1h-1zM229 196h1v1h-1zM230 196h1v1h-1zM231 195h1v1h-1zM232 195h1v1h-1zM233 195h1v1h-1zM234 196h1v1h-1zM235 196h1v1h-1zM236 197h1v1h-1zM237 198h1v1h-1zM238 198h1v1h-1zM239 199h1v2h-1zM240 201h1v4h-1zM241 205h1v4h-1zM242 209h1v2h-1zM243 211h1v2h-1zM244 213h1v2h-1zM245 215h1v2h-1zM246 217h1v1h-1zM247 217h1v1h-1zM248 218h1v1h-1zM249 218h1v1h-1zM250 218h1v1h-1zM251 218h1v1h-1zM252 218h1v1h-1zM253 218h1v1h-1zM254 218h1v1h-1zM255 218h1v1h-1zM256 218h1v1h-1zM257 218h1v1h-1zM258 218h1v1h-1zM259 217h1v1h-1zM260 217h1v1h-1zM261 217h1v1h-1zM262 217h1v1h-1zM263 217h1v1h-1zM264 217h1v1h-1zM265 216h1v1h-1zM266 216h1v1h-1zM267 216h1v1h-1zM268 216h1v1h-1zM269 216h1v1h-1zM270 216h1v1h-1zM271 216h1v1h-1zM272 216h1v1h-1zM273 215h1v1h-1zM274 215h1v1h-1zM275 215h1v1h-1zM276 215h1v1h-1zM277 215h1v1h-1zM278 215h1v1h-1zM279 214h1v1h-1zM280 214h1v1h-1zM281 213h1v1h-1zM282 213h1v1h-1zM283 211h1v2h-1zM284 208h1v3h-1zM285 205h1v3h-1zM286 202h1v3h-1zM287 199h1v3h-1zM288 196h1v3h-1zM289 193h1v3h-1zM290 191h1v2h-1zM291 189h1v2h-1zM292 187h1v2h-1zM293 186h1v1h-1zM294 186h1v1h-1zM295 185h1v1h-1zM296 185h1v1h-1zM297 184h1v1h-1zM298 184h1v1h-1zM299 183h1v1h-1zM300 183h1v1h-1zM301 183h1v1h-1zM302 184h1v1h-1zM303 184h1v1h-1zM304 184h1v1h-1zM305 184h1v1h-1zM306 184h1v1h-1zM307 185h1v1h-1zM308 185h1v1h-1zM309 186h1v1h-1zM310 186h1v2h-1zM311 188h1v2h-1zM312 190h1v3h-1zM313 193h1v2h-1zM314 195h1v2h-1zM315 197h1v2h-1zM316 199h1v2h-1zM317 201h1v2h-1zM318 203h1v2h-1zM319 205h1v1h-1zM320 206h1v1h-1zM321 207h1v2h-1zM322 209h1v1h-1zM323 210h1v1h-1zM324 211h1v2h-1zM325 213h1v1h-1zM326 214h1v1h-1zM327 215h1v2h-1zM328 217h1v1h-1zM329 218h1v1h-1zM330 219h1v1h-1zM331 219h1v1h-1zM332 220h1v1h-1zM333 221h1v1h-1zM334 222h1v1h-1zM335 222h1v1h-1zM336 223h1v1h-1zM337 224h1v1h-1zM338 224h1v1h-1zM339 225h1v5h-1zM340 230h1v6h-1zM341 236h1v3h-1zM342 239h1v3h-1zM343 242h1v3h-1zM344 245h1v2h-1zM345 247h1v2h-1zM346 249h1v2h-1zM347 251h1v2h-1zM348 253h1v2h-1zM349 255h1v1h-1zM350 256h1v1h-1zM351 257h1v1h-1zM352 258h1v1h-1zM353 258h1v1h-1zM354 258h1v1h-1zM355 258h1v1h-1zM356 259h1v1h-1zM357 259h1v1h-1zM358 259h1v1h-1zM359 259h1v1h-1zM360 259h1v1h-1zM361 259h1v1h-1zM362 259h1v1h-1zM363 259h1v1h-1zM364 259h1v1h-1zM365 258h1v1h-1zM366 258h1v1h-1zM367 258h1v1h-1zM368 258h1v1h-1zM369 258h1v1h-1zM370 258h1v1h-1zM371 258h1v1h-1zM372 258h1v1h-1zM373 258h1v1h-1zM374 258h1v1h-1zM375 258h1v1h-1zM376 258h1v1h-1zM377 258h1v1h-1zM378 258h1v1h-1zM379 258h1v1h-1zM380 258h1v1h-1zM381 258h1v1h-1zM382 257h1v1h-1zM383 256h1v1h-1zM384 254h1v2h-1zM385 252h1v2h-1zM386 250h1v2h-1zM387 247h1v3h-1zM388 245h1v2h-1zM389 243h1v2h-1zM390 240h1v3h-1zM391 237h1v3h-1zM392 234h1v3h-1zM393 232h1v2h-1zM394 230h1v2h-1zM395 228h1v2h-1zM396 226h1v2h-1zM397 225h1v1h-1zM398 224h1v1h-1zM399 223h1v1h-1zM400 223h1v1h-1zM401 222h1v1h-1zM402 222h1v1h-1zM403 222h1v1h-1zM404 222h1v1h-1zM405 223h1v1h-1zM406 223h1v1h-1zM407 223h1v1h-1zM408 223h1v1h-1zM409 224h1v1h-1zM410 225h1v1h-1zM411 225h1v1h-1zM412 226h1v1h-1zM413 227h1v2h-1zM414 229h1v2h-1zM415 231h1v3h-1zM416 234h1v2h-1zM417 236h1v3h-1zM418 239h1v2h-1zM419 241h1v3h-1zM420 244h1v2h-1zM421 246h1v3h-1zM422 249h1v2h-1zM423 251h1v2h-1zM424 253h1v3h-1zM425 256h1v2h-1zM426 258h1v3h-1zM427 261h1v2h-1zM428 263h1v2h-1zM429 265h1v2h-1zM430 267h1v2h-1zM431 269h1v2h-1zM432 271h1v2h-1zM433 273h1v2h-1zM434 275h1v2h-1zM435 277h1v2h-1zM436 279h1v3h-1zM437 282h1v2h-1zM438 284h1v3h-1zM439 287h1v2h-1zM440 289h1v2h-1zM441 291h1v1h-1zM442 291h1v1h-1zM443 291h1v1h-1zM444 291h1v1h-1zM445 290h1v1h-1zM446 290h1v1h-1zM447 290h1v1h-1zM448 290h1v1h-1zM449 289h1v1h-1zM450 288h1v1h-1zM451 287h1v1h-1zM452 286h1v1h-1zM453 285h1v1h-1zM454 284h1v1h-1zM455 283h1v1h-1zM456 283h1v1h-1zM457 282h1v1h-1zM458 281h1v1h-1zM459 281h1v1h-1zM460 281h1v1h-1zM461 281h1v1h-1zM462 281h1v1h-1zM463 280h1v1h-1zM464 280h1v1h-1zM465 280h1v1h-1zM466 280h1v1h-1zM467 280h1v1h-1zM468 280h1v1h-1zM469 280h1v1h-1zM470 280h1v1h-1zM471 280h1v1h-1zM472 279h1v1h-1zM473 279h1v1h-1zM474 279h1v1h-1zM475 279h1v1h-1zM476 279h1v1h-1zM477 278h1v1h-1zM478 277h1v1h-1zM479 277h1v1h-1zM480 276h1v1h-1zM481 274h1v2h-1zM482 272h1v2h-1zM483 271h1v1h-1zM484 270h1v1h-1zM485 270h1v1h-1zM486 269h1v1h-1zM487 269h1v1h-1zM488 268h1v1h-1zM489 268h1v1h-1zM490 268h1v1h-1zM491 267h1v1h-1zM492 267h1v1h-1zM493 266h1v1h-1zM494 266h1v1h-1zM495 265h1v1h-1zM496 265h1v1h-1zM497 264h1v1h-1z"/>
<path fill="#0000ff" d="M22 74h1v1h-1zM23 75h1v1h-1zM24 76h1v1h-1zM25 77h1v1h-1zM26 78h1v1h-1zM27 79h1v1h-1zM28 80h1v1h-1zM29 81h1v1h-1zM30 82h1v1h-1zM31 83h1v1h-1zM32 84h1v1h-1zM33 85h1v1h-1zM34 85h1v1h-1zM35 86h1v1h-1zM36 87h1v1h-1zM37 88h1v1h-1zM38 89h1v1h-1zM39 90h1v1h-1zM40 90h1v1h-1zM41 91h1v1h-1zM42 92h1v1h-1zM43 93h1v1h-1zM44 94h1v1h-1zM45 95h1v1h-1zM46 96h1v1h-1zM47 97h1v2h-1zM48 99h1v1h-1zM49 100h1v1h-1zM50 101h1v1h-1zM51 102h1v1h-1zM52 103h1v1h-1zM53 104h1v1h-1zM54 105h1v1h-1zM55 106h1v1h-1zM56 107h1v1h-1zM57 108h1v1h-1zM58 109h1v1h-1zM59 110h1v1h-1zM60 111h1v1h-1zM61 112h1v1h-1zM62 113h1v1h-1zM63 114h1v1h-1zM64 114h1v1h-1zM65 115h1v1h-1zM66 116h1v1h-1zM67 117h1v1h-1zM68 118h1v1h-1zM69 119h1v2h-1zM70 121h1v1h-1zM71 122h1v1h-1zM72 123h1v1h-1zM73 124h1v1h-1zM74 125h1v1h-1zM75 126h1v1h-1zM76 126h1v1h-1zM77 127h1v1h-1zM78 128h1v1h-1zM79 129h1v1h-1zM80 130h1v1h-1zM81 131h1v1h-1zM82 132h1v1h-1zM83 133h1v1h-1zM84 133h1v1h-1zM85 134h1v1h-1zM86 135h1v1h-1zM87 136h1v1h-1zM88 137h1v1h-1zM89 138h1v1h-1zM90 139h1v1h-1zM91 139h1v1h-1zM92 140h1v1h-1zM93 141h1v1h-1zM94 142h1v1h-1zM95 143h1v1h-1zM96 144h1v1h-1zM97 144h1v1h-1zM98 145h1v1h-1zM99 146h1v1h-1zM100 147h1v1h-1zM101 147h1v1h-1zM102 148h1v1h-1zM103 149h1v1h-1zM104 149h1v1h-1zM105 150h1v1h-1zM106 151h1v1h-1zM107 151h1v1h-1zM108 152h1v1h-1zM109 152h1v1h-1zM110 153h1v1h-1zM111 153h1v1h-1zM112 153h1v1h-1zM113 153h1v1h-1zM114 154h1v1h-1zM115 154h1v1h-1zM116 154h1v1h-1zM117 155h1v1h-1zM118 155h1v1h-1zM119 155h1v1h-1zM120 156h1v1h-1zM121 156h1v1h-1zM122 156h1v1h-1zM123 157h1v1h-1zM124 157h1v1h-1zM125 157h1v1h-1zM126 158h1v1h-1zM127 158h1v1h-1zM128 158h1v1h-1zM129 158h1v1h-1zM130 159h1v1h-1zM131 159h1v1h-1zM132 160h1v1h-1zM133 160h1v1h-1zM134 161h1v1h-1zM135 162h1v1h-1zM136 162h1v1h-1zM137 163h1v1h-1zM138 163h1v1h-1zM139 164h1v1h-1zM140 164h1v1h-1zM141 165h1v1h-1zM142 165h1v1h-1zM143 166h1v1h-1zM144 166h1v1h-1zM145 166h1v1h-1zM146 167h1v1h-1zM147 167h1v1h-1zM148 168h1v1h-1zM149 168h1v1h-1zM150 168h1v1h-1zM151 168h1v1h-1zM152 168h1v1h-1zM153 169h1v1h-1zM154 169h1v1h-1zM155 169h1v1h-1zM156 169h1v1h-1zM157 169h1v1h-1zM158 170h1v1h-1zM159 170h1v1h-1zM160 171h1v1h-1zM161 171h1v1h-1zM162 172h1v1h-1zM163 172h1v1h-1zM164 173h1v1h-1zM165 173h1v1h-1zM166 174h1v1h-1zM167 174h1v1h-1zM168 175h1v1h-1zM169 175h1v1h-1zM170 176h1v1h-1zM171 176h1v1h-1zM172 176h1v1h-1zM173 177h1v1h-1zM174 177h1v1h-1zM175 178h1v1h-1zM176 178h1v1h-1zM177 179h1v1h-1zM178 179h1v1h-1zM179 179h1v1h-1zM180 179h1v1h-1zM181 180h1v1h-1zM182 180h1v1h-1zM183 180h1v1h-1zM184 180h1v1h-1zM185 180h1v1h-1zM186 180h1v1h-1zM187 181h1v1h-1zM188 181h1v1h-1zM189 181h1v1h-1zM190 181h1v1h-1zM191 182h1v1h-1zM192 182h1v1h-1zM193 183h1v1h-1zM194 183h1v1h-1zM195 183h1v1h-1zM196 184h1v1h-1zM197 184h1v1h-1zM198 185h1v1h-1zM199 185h1v1h-1zM200 185h1v1h-1zM201 185h1v1h-1zM202 186h1v1h-1zM203 186h1v1h-1zM204 186h1v1h-1zM205 186h1v1h-1zM206 186h1v1h-1zM207 186h1v1h-1zM208 187h1v1h-1zM209 187h1v1h-1zM210 187h1v1h-1zM211 187h1v1h-1zM212 187h1v1h-1zM213 187h1v1h-1zM214 187h1v1h-1zM215 187h1v1h-1zM216 188h1v1h-1zM217 188h1v1h-1zM218 188h1v1h-1zM219 188h1v1h-1zM220 188h1v1h-1zM221 188h1v1h-1zM222 188h1v1h-1zM223 189h1v1h-1zM224 189h1v1h-1zM225 189h1v1h-1zM226 190h1v1h-1zM227 190h1v1h-1zM228 190h1v1h-1zM229 190h1v1h-1zM230 191h1v1h-1zM231 191h1v1h-1zM232 191h1v1h-1zM233 192h1v1h-1zM234 192h1v1h-1zM235 192h1v1h-1zM236 192h1v1h-1zM237 193h1v1h-1zM238 193h1v1h-1zM239 193h1v1h-1zM240 193h1v1h-1zM241 194h1v1h-1zM242 194h1v1h-1zM243 194h1v1h-1zM244 194h1v1h-1zM245 194h1v1h-1zM246 194h1v1h-1zM247 193h1v1h-1zM248 193h1v1h-1zM249 193h1v1h-1zM250 193h1v1h-1zM251 193h1v1h-1zM252 193h1v1h-1zM253 192h1v1h-1zM254 192h1v1h-1zM255 192h1v1h-1zM256 192h1v1h-1zM257 191h1v1h-1zM258 191h1v1h-1zM259 191h1v1h-1zM260 191h1v1h-1zM261 191h1v1h-1zM262 191h1v1h-1zM263 191h1v1h-1zM264 191h1v1h-1zM265 191h1v1h-1zM266 191h1v1h-1zM267 190h1v1h-1zM268 190h1v1h-1zM269 189h1v1h-1zM270 189h1v1h-1zM271 188h1v1h-1zM272 188h1v1h-1zM273 187h1v1h-1zM274 187h1v1h-1zM275 186h1v1h-1zM276 186h1v1h-1zM277 186h1v1h-1zM278 185h1v1h-1zM279 185h1v1h-1zM280 185h1v1h-1zM281 184h1v1h-1zM282 184h1v1h-1zM283 184h1v1h-1zM284 183h1v1h-1zM285 183h1v1h-1zM286 183h1v1h-1zM287 182h1v1h-1zM288 182h1v1h-1zM289 182h1v1h-1zM290 181h1v1h-1zM291 181h1v1h-1zM292 181h1v1h-1zM293 180h1v1h-1zM294 180h1v1h-1zM295 180h1v1h-1zM296 180h1v1h-1zM297 180h1v1h-1zM298 180h1v1h-1zM299 179h1v1h-1zM300 179h1v1h-1zM301 179h1v1h-1zM302 179h1v1h-1zM303 179h1v1h-1zM304 179h1v1h-1zM305 179h1v1h-1zM306 179h1v1h-1zM307 179h1v1h-1zM308 180h1v1h-1zM309 180h1v1h-1zM310 180h1v1h-1zM311 180h1v1h-1zM312 180h1v1h-1zM313 180h1v1h-1zM314 180h1v1h-1zM315 180h1v1h-1zM316 181h1v1h-1zM317 181h1v1h-1zM318 181h1v1h-1zM319 181h1v1h-1zM320 181h1v1h-1zM321 182h1v1h-1zM322 182h1v1h-1zM323 183h1v1h-1zM324 183h1v1h-1zM325 184h1v1h-1zM326 184h1v1h-1zM327 185h1v1h-1zM328 185h1v1h-1zM329 185h1v1h-1zM330 186h1v1h-1zM331 186h1v1h-1zM332 186h1v1h-1zM333 186h1v1h-1zM334 187h1v1h-1zM335 187h1v1h-1zM336 187h1v1h-1zM337 187h1v1h-1zM338 188h1v1h-1zM339 188h1v1h-1zM340 188h1v1h-1zM341 189h1v1h-1zM342 189h1v1h-1zM343 189h1v1h-1zM344 190h1v1h-1zM345 190h1v1h-1zM346 190h1v1h-1zM347 191h1v1h-1zM348 191h1v1h-1zM349 191h1v1h-1zM350 192h1v1h-1zM351 192h1v1h-1zM352 193h1v1h-1zM353 193h1v1h-1zM354 193h1v1h-1zM355 194h1v1h-1zM356 194h1v1h-1zM357 194h1v1h-1zM358 195h1v1h-1zM359 195h1v1h-1zM360 195h1v1h-1zM361 195h1v1h-1zM362 196h1v1h-1zM363 196h1v1h-1zM364 196h1v1h-1zM365 196h1v1h-1zM366 197h1v1h-1zM367 197h1v1h-1zM368 197h1v1h-1zM369 198h1v1h-1zM370 198h1v1h-1zM371 199h1v1h-1zM372 199h1v1h-1zM373 200h1v1h-1zM374 200h1v1h-1zM375 201h1v1h-1zM376 201h1v1h-1zM377 202h1v1h-1zM378 202h1v1h-1zM379 202h1v1h-1zM380 202h1v1h-1zM381 203h1v1h-1zM382 203h1v1h-1zM383 203h1v1h-1zM384 203h1v1h-1zM385 204h1v1h-1zM386 204h1v1h-1zM387 204h1v1h-1zM388 204h1v1h-1zM389 205h1v1h-1zM390 205h1v1h-1zM391 205h1v1h-1zM392 205h1v1h-1zM393 206h1v1h-1zM394 206h1v1h-1zM395 206h1v1h-1zM396 206h1v1h-1zM397 207h1v1h-1zM398 207h1v1h-1zM399 207h1v1h-1zM400 207h1v1h-1zM401 207h1v1h-1zM402 208h1v1h-1zM403 208h1v1h-1zM404 208h1v1h-1zM405 208h1v1h-1zM406 208h1v1h-1zM407 208h1v1h-1zM408 209h1v1h-1zM409 209h1v1h-1zM410 210h1v1h-1zM411 210h1v1h-1zM412 210h1v1h-1zM413 211h1v1h-1zM414 211h1v1h-1zM415 212h1v1h-1zM416 213h1v1h-1zM417 214h1v1h-1zM418 214h1v1h-1zM419 215h1v1h-1zM420 215h1v1h-1zM421 216h1v1h-1zM422 216h1v1h-1zM423 217h1v1h-1zM424 217h1v1h-1zM425 218h1v1h-1zM426 218h1v1h-1zM427 219h1v1h-1zM428 219h1v1h-1zM429 220h1v1h-1zM430 220h1v1h-1zM431 221h1v1h-1zM432 221h1v1h-1zM433 222h1v1h-1zM434 222h1v1h-1zM435 223h1v1h-1zM436 223h1v1h-1zM437 224h1v1h-1zM438 224h1v1h-1zM439 225h1v1h-1zM440 226h1v1h-1zM441 226h1v1h-1zM442 227h1v1h-1zM443 227h1v1h-1zM444 228h1v1h-1zM445 228h1v1h-1zM446 229h1v1h-1zM447 229h1v1h-1zM448 230h1v1h-1zM449 230h1v1h-1zM450 230h1v1h-1zM451 230h1v1h-1zM452 230h1v1h-1zM453 230h1v1h-1zM454 230h1v1h-1zM455 230h1v1h-1zM456 231h1v1h-1zM457 231h1v1h-1zM458 231h1v1h-1zM459 231h1v1h-1zM460 231h1v1h-1zM461 231h1v1h-1zM462 231h1v1h-1zM463 231h1v1h-1zM464 231h1v1h-1zM465 232h1v1h-1zM466 232h1v1h-1zM467 232h1v1h-1zM468 232h1v1h-1zM469 233h1v1h-1zM470 233h1v1h-1zM471 233h1v1h-1zM472 234h1v1h-1zM473 234h1v1h-1zM474 235h1v1h-1zM475 235h1v1h-1zM476 236h1v1h-1zM477 236h1v1h-1zM478 237h1v1h-1zM479 237h1v1h-1zM480 238h1v1h-1zM481 238h1v1h-1zM482 238h1v1h-1zM483 238h1v1h-1zM484 239h1v1h-1zM485 239h1v1h-1zM486 239h1v1h-1zM487 239h1v1h-1zM488 240h1v1h-1zM489 240h1v1h-1zM490 240h1v1h-1zM491 240h1v1h-1zM492 241h1v1h-1zM493 241h1v1h-1zM494 242h1v1h-1zM495 242h1v1h-1zM496 243h1v1h-1zM497 243h1v1h-1zM498 244h1v1h-1zM499 244h1v1h-1z"/>
</g>
<!-- horizontal levels -->
<g shape-rendering="crispEdges">
<rect x="21" y="146" width="534" height="2" fill="#008000"/>
<rect x="21" y="184" width="534" height="2" fill="#008000"/>
<rect x="21" y="221" width="534" height="2" fill="#0000ff"/>
<rect x="21" y="291" width="534" height="2" fill="#ff0000"/>
<rect x="21" y="309" width="534" height="2" fill="#ff0000"/>
<rect x="21" y="341" width="534" height="2" fill="#ff0000"/>
</g>
<!-- arrow -->
<g shape-rendering="crispEdges">
<line x1="501.6" y1="245.8" x2="525" y2="304" stroke="#000080" stroke-width="2.2"/>
<polygon points="518.8,303.6 529.2,299.2 529.4,315" fill="#000080"/>
</g>
<!-- axes -->
<g fill="#000" shape-rendering="crispEdges">
<rect x="555" y="33" width="1" height="400"/>
<rect x="17" y="359" width="539" height="1"/>
<rect x="17" y="420" width="539" height="1"/>
<rect x="556" y="89" width="4" height="1"/>
<rect x="556" y="168" width="4" height="1"/>
<rect x="556" y="247" width="4" height="1"/>
<rect x="556" y="326" width="4" height="1"/>
<rect x="556" y="365" width="4" height="1"/>
<rect x="556" y="384" width="4" height="1"/>
<rect x="556" y="403" width="4" height="1"/>
<rect x="64" y="421" width="1" height="4"/>
<rect x="170" y="421" width="1" height="4"/>
<rect x="275" y="421" width="1" height="4"/>
<rect x="379" y="421" width="1" height="4"/>
<rect x="484" y="421" width="1" height="4"/>
</g>
<!-- RSI -->
<g shape-rendering="crispEdges">
<path fill="#ff0000" d="M22 414h1v1h-1zM23 414h1v1h-1zM24 414h1v1h-1zM25 414h1v1h-1zM26 414h1v1h-1zM27 414h1v1h-1zM28 414h1v1h-1zM29 414h1v1h-1zM30 415h1v1h-1zM31 415h1v1h-1zM32 415h1v1h-1zM33 414h1v1h-1zM34 414h1v1h-1zM35 413h1v1h-1zM36 412h1v1h-1zM37 411h1v1h-1zM38 411h1v1h-1zM39 410h1v1h-1zM40 410h1v1h-1zM41 409h1v1h-1zM42 409h1v1h-1zM43 409h1v1h-1zM44 409h1v1h-1zM45 408h1v1h-1zM46 408h1v1h-1zM47 407h1v1h-1zM48 407h1v1h-1zM49 406h1v1h-1zM50 405h1v1h-1zM51 404h1v1h-1zM52 404h1v1h-1zM53 403h1v1h-1zM54 403h1v1h-1zM55 403h1v1h-1zM56 403h1v1h-1zM57 403h1v1h-1zM58 403h1v1h-1zM59 403h1v1h-1zM60 403h1v1h-1zM61 403h1v1h-1zM62 403h1v1h-1zM63 403h1v1h-1zM64 403h1v1h-1zM65 403h1v1h-1zM66 403h1v1h-1zM67 403h1v1h-1zM68 403h1v1h-1zM69 403h1v1h-1zM70 403h1v1h-1zM71 402h1v1h-1zM72 402h1v1h-1zM73 402h1v1h-1zM74 402h1v1h-1zM75 401h1v1h-1zM76 401h1v1h-1zM77 400h1v1h-1zM78 399h1v1h-1zM79 397h1v2h-1zM80 396h1v1h-1zM81 395h1v1h-1zM82 394h1v1h-1zM83 393h1v1h-1zM84 392h1v1h-1zM85 392h1v1h-1zM86 391h1v1h-1zM87 390h1v1h-1zM88 389h1v1h-1zM89 389h1v1h-1zM90 388h1v1h-1zM91 387h1v1h-1zM92 387h1v1h-1zM93 386h1v1h-1zM94 386h1v1h-1zM95 386h1v1h-1zM96 386h1v1h-1zM97 386h1v1h-1zM98 386h1v1h-1zM99 386h1v1h-1zM100 386h1v1h-1zM101 385h1v1h-1zM102 385h1v1h-1zM103 385h1v1h-1zM104 384h1v1h-1zM105 384h1v1h-1zM106 384h1v1h-1zM107 384h1v1h-1zM108 384h1v1h-1zM109 384h1v1h-1zM110 384h1v1h-1zM111 384h1v1h-1zM112 384h1v1h-1zM113 384h1v1h-1zM114 383h1v1h-1zM115 383h1v1h-1zM116 382h1v1h-1zM117 382h1v1h-1zM118 382h1v1h-1zM119 383h1v1h-1zM120 383h1v1h-1zM121 384h1v1h-1zM122 384h1v1h-1zM123 385h1v1h-1zM124 385h1v1h-1zM125 385h1v1h-1zM126 386h1v1h-1zM127 386h1v1h-1zM128 386h1v1h-1zM129 386h1v1h-1zM130 387h1v1h-1zM131 387h1v1h-1zM132 388h1v1h-1zM133 388h1v1h-1zM134 389h1v1h-1zM135 390h1v1h-1zM136 390h1v1h-1zM137 391h1v1h-1zM138 391h1v1h-1zM139 392h1v1h-1zM140 393h1v1h-1zM141 393h1v1h-1zM142 394h1v1h-1zM143 394h1v1h-1zM144 395h1v1h-1zM145 395h1v1h-1zM146 396h1v1h-1zM147 397h1v1h-1zM148 397h1v1h-1zM149 398h1v1h-1zM150 398h1v1h-1zM151 397h1v1h-1zM152 397h1v1h-1zM153 396h1v1h-1zM154 396h1v1h-1zM155 395h1v1h-1zM156 395h1v1h-1zM157 394h1v1h-1zM158 394h1v1h-1zM159 393h1v1h-1zM160 393h1v1h-1zM161 392h1v1h-1zM162 392h1v1h-1zM163 392h1v1h-1zM164 392h1v1h-1zM165 392h1v1h-1zM166 391h1v1h-1zM167 391h1v1h-1zM168 391h1v1h-1zM169 391h1v1h-1zM170 391h1v1h-1zM171 391h1v1h-1zM172 391h1v1h-1zM173 392h1v1h-1zM174 392h1v1h-1zM175 392h1v1h-1zM176 392h1v1h-1zM177 392h1v1h-1zM178 391h1v1h-1zM179 391h1v1h-1zM180 390h1v1h-1zM181 390h1v1h-1zM182 389h1v1h-1zM183 389h1v1h-1zM184 388h1v1h-1zM185 388h1v1h-1zM186 387h1v1h-1zM187 387h1v1h-1zM188 386h1v1h-1zM189 386h1v1h-1zM190 385h1v1h-1zM191 385h1v1h-1zM192 384h1v1h-1zM193 384h1v1h-1zM194 383h1v1h-1zM195 383h1v1h-1zM196 382h1v1h-1zM197 382h1v1h-1zM198 381h1v1h-1zM199 381h1v1h-1zM200 380h1v1h-1zM201 380h1v1h-1zM202 379h1v1h-1zM203 379h1v1h-1zM204 379h1v1h-1zM205 379h1v1h-1zM206 379h1v1h-1zM207 378h1v1h-1zM208 378h1v1h-1zM209 378h1v1h-1zM210 378h1v1h-1zM211 378h1v1h-1zM212 378h1v1h-1zM213 378h1v1h-1zM214 377h1v1h-1zM215 377h1v1h-1zM216 377h1v1h-1zM217 377h1v1h-1zM218 377h1v1h-1zM219 378h1v1h-1zM220 378h1v1h-1zM221 378h1v1h-1zM222 378h1v1h-1zM223 379h1v1h-1zM224 379h1v1h-1zM225 379h1v1h-1zM226 380h1v1h-1zM227 380h1v1h-1zM228 381h1v1h-1zM229 381h1v1h-1zM230 382h1v1h-1zM231 382h1v1h-1zM232 383h1v1h-1zM233 383h1v1h-1zM234 384h1v1h-1zM235 384h1v1h-1zM236 385h1v1h-1zM237 385h1v1h-1zM238 386h1v1h-1zM239 386h1v1h-1zM240 386h1v1h-1zM241 387h1v1h-1zM242 387h1v1h-1zM243 388h1v1h-1zM244 388h1v1h-1zM245 389h1v1h-1zM246 389h1v1h-1zM247 389h1v1h-1zM248 389h1v1h-1zM249 389h1v1h-1zM250 389h1v1h-1zM251 389h1v1h-1zM252 389h1v1h-1zM253 389h1v1h-1zM254 389h1v1h-1zM255 388h1v1h-1zM256 388h1v1h-1zM257 387h1v1h-1zM258 387h1v1h-1zM259 386h1v1h-1zM260 386h1v1h-1zM261 385h1v1h-1zM262 384h1v1h-1zM263 384h1v1h-1zM264 383h1v1h-1zM265 383h1v1h-1zM266 382h1v1h-1zM267 382h1v1h-1zM268 381h1v1h-1zM269 381h1v1h-1zM270 381h1v1h-1zM271 381h1v1h-1zM272 381h1v1h-1zM273 381h1v1h-1zM274 381h1v1h-1zM275 381h1v1h-1zM276 381h1v1h-1zM277 381h1v1h-1zM278 381h1v1h-1zM279 381h1v1h-1zM280 382h1v1h-1zM281 382h1v1h-1zM282 382h1v1h-1zM283 382h1v1h-1zM284 383h1v1h-1zM285 383h1v1h-1zM286 383h1v1h-1zM287 383h1v1h-1zM288 383h1v1h-1zM289 382h1v1h-1zM290 382h1v1h-1zM291 382h1v1h-1zM292 382h1v1h-1zM293 382h1v1h-1zM294 382h1v1h-1zM295 382h1v1h-1zM296 381h1v1h-1zM297 381h1v1h-1zM298 381h1v1h-1zM299 381h1v1h-1zM300 381h1v1h-1zM301 381h1v1h-1zM302 381h1v1h-1zM303 380h1v1h-1zM304 380h1v1h-1zM305 380h1v1h-1zM306 380h1v1h-1zM307 381h1v1h-1zM308 381h1v1h-1zM309 382h1v1h-1zM310 383h1v1h-1zM311 383h1v1h-1zM312 384h1v1h-1zM313 385h1v2h-1zM314 387h1v2h-1zM315 389h1v1h-1zM316 390h1v1h-1zM317 391h1v1h-1zM318 392h1v1h-1zM319 392h1v1h-1zM320 393h1v1h-1zM321 394h1v1h-1zM322 395h1v1h-1zM323 395h1v1h-1zM324 396h1v1h-1zM325 396h1v1h-1zM326 397h1v1h-1zM327 397h1v1h-1zM328 398h1v1h-1zM329 398h1v1h-1zM330 398h1v1h-1zM331 397h1v1h-1zM332 397h1v1h-1zM333 397h1v1h-1zM334 397h1v1h-1zM335 396h1v1h-1zM336 396h1v1h-1zM337 396h1v1h-1zM338 396h1v1h-1zM339 396h1v1h-1zM340 396h1v1h-1zM341 396h1v1h-1zM342 396h1v1h-1zM343 396h1v1h-1zM344 396h1v1h-1zM345 396h1v1h-1zM346 396h1v1h-1zM347 397h1v1h-1zM348 397h1v1h-1zM349 397h1v1h-1zM350 397h1v1h-1zM351 398h1v1h-1zM352 398h1v1h-1zM353 398h1v1h-1zM354 398h1v1h-1zM355 397h1v1h-1zM356 397h1v1h-1zM357 396h1v1h-1zM358 396h1v1h-1zM359 395h1v1h-1zM360 394h1v1h-1zM361 393h1v1h-1zM362 393h1v1h-1zM363 392h1v1h-1zM364 391h1v1h-1zM365 390h1v1h-1zM366 389h1v1h-1zM367 388h1v1h-1zM368 388h1v1h-1zM369 387h1v1h-1zM370 386h1v1h-1zM371 385h1v1h-1zM372 385h1v1h-1zM373 385h1v1h-1zM374 385h1v1h-1zM375 384h1v1h-1zM376 384h1v1h-1zM377 384h1v1h-1zM378 384h1v1h-1zM379 384h1v1h-1zM380 384h1v1h-1zM381 384h1v1h-1zM382 384h1v1h-1zM383 384h1v1h-1zM384 384h1v1h-1zM385 384h1v1h-1zM386 384h1v1h-1zM387 383h1v1h-1zM388 383h1v1h-1zM389 383h1v1h-1zM390 383h1v1h-1zM391 382h1v1h-1zM392 382h1v1h-1zM393 382h1v1h-1zM394 381h1v1h-1zM395 381h1v1h-1zM396 380h1v1h-1zM397 380h1v1h-1zM398 379h1v1h-1zM399 379h1v1h-1zM400 379h1v1h-1zM401 379h1v1h-1zM402 379h1v1h-1zM403 378h1v1h-1zM404 378h1v1h-1zM405 378h1v1h-1zM406 378h1v1h-1zM407 379h1v1h-1zM408 380h1v1h-1zM409 381h1v1h-1zM410 381h1v1h-1zM411 382h1v1h-1zM412 383h1v1h-1zM413 384h1v1h-1zM414 385h1v1h-1zM415 386h1v1h-1zM416 387h1v2h-1zM417 389h1v2h-1zM418 391h1v2h-1zM419 393h1v1h-1zM420 394h1v1h-1zM421 394h1v1h-1zM422 395h1v1h-1zM423 396h1v1h-1zM424 397h1v1h-1zM425 397h1v1h-1zM426 398h1v1h-1zM427 399h1v1h-1zM428 399h1v1h-1zM429 400h1v1h-1zM430 400h1v1h-1zM431 401h1v1h-1zM432 401h1v1h-1zM433 402h1v1h-1zM434 403h1v1h-1zM435 403h1v1h-1zM436 404h1v1h-1zM437 404h1v1h-1zM438 405h1v1h-1zM439 405h1v1h-1zM440 405h1v1h-1zM441 405h1v1h-1zM442 405h1v1h-1zM443 404h1v1h-1zM444 404h1v1h-1zM445 404h1v1h-1zM446 404h1v1h-1zM447 404h1v1h-1zM448 403h1v1h-1zM449 403h1v1h-1zM450 402h1v1h-1zM451 402h1v1h-1zM452 401h1v1h-1zM453 400h1v1h-1zM454 399h1v1h-1zM455 398h1v1h-1zM456 397h1v1h-1zM457 396h1v1h-1zM458 395h1v1h-1zM459 394h1v1h-1zM460 393h1v1h-1zM461 392h1v1h-1zM462 391h1v1h-1zM463 391h1v1h-1zM464 390h1v1h-1zM465 389h1v1h-1zM466 389h1v1h-1zM467 388h1v1h-1zM468 388h1v1h-1zM469 388h1v1h-1zM470 388h1v1h-1zM471 387h1v1h-1zM472 387h1v1h-1zM473 387h1v1h-1zM474 387h1v1h-1zM475 387h1v1h-1zM476 387h1v1h-1zM477 387h1v1h-1zM478 388h1v1h-1zM479 388h1v1h-1zM480 388h1v1h-1zM481 388h1v1h-1zM482 388h1v1h-1zM483 388h1v1h-1zM484 388h1v1h-1zM485 389h1v1h-1zM486 389h1v1h-1zM487 389h1v1h-1zM488 389h1v1h-1zM489 389h1v1h-1zM490 388h1v1h-1zM491 387h1v1h-1zM492 387h1v1h-1zM493 386h1v1h-1zM494 385h1v1h-1zM495 385h1v1h-1zM496 384h1v1h-1zM497 384h1v1h-1z"/>
<path fill="#000080" d="M22 404h1v2h-1zM23 406h1v2h-1zM24 408h1v2h-1zM25 410h1v2h-1zM26 412h1v2h-1zM27 414h1v2h-1zM28 416h1v2h-1zM29 418h1v2h-1zM30 420h1v1h-1zM31 419h1v1h-1zM32 417h1v2h-1zM33 413h1v4h-1zM34 411h1v2h-1zM35 410h1v1h-1zM36 410h1v1h-1zM37 407h1v3h-1zM38 402h1v5h-1zM39 397h1v5h-1zM40 394h1v3h-1zM41 395h1v2h-1zM42 397h1v2h-1zM43 399h1v2h-1zM44 401h1v1h-1zM45 401h1v1h-1zM46 402h1v1h-1zM47 402h1v1h-1zM48 403h1v1h-1zM49 404h1v1h-1zM50 405h1v1h-1zM51 406h1v1h-1zM52 405h1v1h-1zM53 404h1v1h-1zM54 403h1v1h-1zM55 403h1v1h-1zM56 403h1v1h-1zM57 403h1v1h-1zM58 403h1v1h-1zM59 403h1v1h-1zM60 402h1v1h-1zM61 402h1v1h-1zM62 402h1v1h-1zM63 401h1v1h-1zM64 401h1v1h-1zM65 402h1v1h-1zM66 402h1v1h-1zM67 403h1v1h-1zM68 403h1v1h-1zM69 402h1v1h-1zM70 401h1v1h-1zM71 401h1v1h-1zM72 399h1v2h-1zM73 397h1v2h-1zM74 398h1v1h-1zM75 398h1v2h-1zM76 395h1v3h-1zM77 392h1v3h-1zM78 389h1v3h-1zM79 386h1v3h-1zM80 384h1v2h-1zM81 382h1v2h-1zM82 380h1v2h-1zM83 380h1v1h-1zM84 381h1v1h-1zM85 381h1v1h-1zM86 382h1v1h-1zM87 382h1v1h-1zM88 383h1v1h-1zM89 384h1v1h-1zM90 385h1v1h-1zM91 386h1v1h-1zM92 387h1v2h-1zM93 389h1v2h-1zM94 391h1v3h-1zM95 394h1v2h-1zM96 393h1v2h-1zM97 391h1v2h-1zM98 389h1v2h-1zM99 386h1v3h-1zM100 383h1v3h-1zM101 380h1v3h-1zM102 377h1v3h-1zM103 373h1v4h-1zM104 369h1v4h-1zM105 367h1v5h-1zM106 372h1v7h-1zM107 379h1v6h-1zM108 385h1v3h-1zM109 388h1v1h-1zM110 388h1v1h-1zM111 388h1v2h-1zM112 386h1v2h-1zM113 384h1v2h-1zM114 385h1v2h-1zM115 387h1v1h-1zM116 387h1v1h-1zM117 386h1v1h-1zM118 386h1v1h-1zM119 387h1v1h-1zM120 388h1v1h-1zM121 388h1v1h-1zM122 389h1v1h-1zM123 388h1v1h-1zM124 387h1v1h-1zM125 386h1v1h-1zM126 384h1v2h-1zM127 382h1v2h-1zM128 380h1v2h-1zM129 379h1v4h-1zM130 383h1v6h-1zM131 389h1v5h-1zM132 394h1v2h-1zM133 396h1v3h-1zM134 399h1v2h-1zM135 401h1v1h-1zM136 401h1v1h-1zM137 402h1v2h-1zM138 403h1v3h-1zM139 399h1v4h-1zM140 396h1v3h-1zM141 397h1v1h-1zM142 398h1v1h-1zM143 399h1v1h-1zM144 400h1v1h-1zM145 399h1v1h-1zM146 397h1v2h-1zM147 396h1v1h-1zM148 397h1v1h-1zM149 397h1v1h-1zM150 393h1v6h-1zM151 381h1v12h-1zM152 375h1v6h-1zM153 376h1v2h-1zM154 378h1v2h-1zM155 380h1v3h-1zM156 383h1v6h-1zM157 389h1v4h-1zM158 393h1v1h-1zM159 394h1v2h-1zM160 396h1v1h-1zM161 395h1v1h-1zM162 394h1v1h-1zM163 394h1v1h-1zM164 393h1v1h-1zM165 392h1v1h-1zM166 392h1v1h-1zM167 391h1v1h-1zM168 391h1v1h-1zM169 390h1v1h-1zM170 390h1v1h-1zM171 390h1v1h-1zM172 391h1v1h-1zM173 391h1v1h-1zM174 392h1v1h-1zM175 392h1v1h-1zM176 392h1v1h-1zM177 392h1v1h-1zM178 392h1v1h-1zM179 390h1v2h-1zM180 388h1v2h-1zM181 386h1v2h-1zM182 385h1v1h-1zM183 383h1v2h-1zM184 381h1v2h-1zM185 380h1v1h-1zM186 380h1v1h-1zM187 381h1v1h-1zM188 381h1v1h-1zM189 381h1v1h-1zM190 380h1v1h-1zM191 379h1v1h-1zM192 378h1v1h-1zM193 379h1v1h-1zM194 379h1v1h-1zM195 380h1v1h-1zM196 379h1v1h-1zM197 377h1v2h-1zM198 376h1v1h-1zM199 377h1v1h-1zM200 377h1v1h-1zM201 378h1v1h-1zM202 378h1v1h-1zM203 379h1v1h-1zM204 377h1v2h-1zM205 376h1v2h-1zM206 378h1v2h-1zM207 380h1v2h-1zM208 378h1v2h-1zM209 376h1v2h-1zM210 375h1v1h-1zM211 374h1v1h-1zM212 373h1v1h-1zM213 372h1v1h-1zM214 373h1v3h-1zM215 376h1v2h-1zM216 378h1v3h-1zM217 381h1v2h-1zM218 379h1v2h-1zM219 377h1v2h-1zM220 378h1v2h-1zM221 380h1v2h-1zM222 382h1v2h-1zM223 384h1v1h-1zM224 385h1v1h-1zM225 386h1v1h-1zM226 387h1v2h-1zM227 389h1v1h-1zM228 389h1v2h-1zM229 385h1v4h-1zM230 382h1v3h-1zM231 383h1v1h-1zM232 384h1v2h-1zM233 386h1v1h-1zM234 387h1v1h-1zM235 388h1v1h-1zM236 389h1v1h-1zM237 390h1v1h-1zM238 391h1v1h-1zM239 392h1v2h-1zM240 394h1v2h-1zM241 396h1v2h-1zM242 398h1v2h-1zM243 397h1v2h-1zM244 396h1v1h-1zM245 394h1v2h-1zM246 391h1v3h-1zM247 387h1v4h-1zM248 384h1v3h-1zM249 383h1v1h-1zM250 381h1v2h-1zM251 380h1v1h-1zM252 381h1v1h-1zM253 382h1v2h-1zM254 384h1v1h-1zM255 382h1v2h-1zM256 381h1v1h-1zM257 379h1v2h-1zM258 377h1v2h-1zM259 376h1v1h-1zM260 377h1v1h-1zM261 378h1v2h-1zM262 380h1v1h-1zM263 381h1v2h-1zM264 383h1v1h-1zM265 382h1v1h-1zM266 381h1v1h-1zM267 381h1v1h-1zM268 380h1v1h-1zM269 381h1v1h-1zM270 381h1v1h-1zM271 382h1v1h-1zM272 382h1v1h-1zM273 382h1v1h-1zM274 382h1v1h-1zM275 383h1v1h-1zM276 383h1v1h-1zM277 383h1v1h-1zM278 383h1v1h-1zM279 382h1v1h-1zM280 382h1v1h-1zM281 381h1v1h-1zM282 382h1v1h-1zM283 383h1v1h-1zM284 384h1v1h-1zM285 385h1v1h-1zM286 385h1v1h-1zM287 384h1v1h-1zM288 384h1v1h-1zM289 382h1v2h-1zM290 380h1v2h-1zM291 379h1v1h-1zM292 379h1v1h-1zM293 378h1v1h-1zM294 379h1v2h-1zM295 381h1v1h-1zM296 380h1v1h-1zM297 379h1v1h-1zM298 378h1v1h-1zM299 379h1v1h-1zM300 379h1v1h-1zM301 380h1v1h-1zM302 380h1v1h-1zM303 381h1v2h-1zM304 383h1v2h-1zM305 385h1v1h-1zM306 386h1v1h-1zM307 387h1v1h-1zM308 388h1v2h-1zM309 390h1v2h-1zM310 392h1v2h-1zM311 394h1v3h-1zM312 397h1v3h-1zM313 400h1v2h-1zM314 396h1v4h-1zM315 393h1v3h-1zM316 394h1v2h-1zM317 396h1v2h-1zM318 398h1v2h-1zM319 399h1v1h-1zM320 399h1v1h-1zM321 399h1v1h-1zM322 399h1v1h-1zM323 397h1v2h-1zM324 396h1v1h-1zM325 397h1v1h-1zM326 398h1v1h-1zM327 398h1v2h-1zM328 396h1v2h-1zM329 394h1v2h-1zM330 392h1v2h-1zM331 393h1v1h-1zM332 394h1v1h-1zM333 395h1v1h-1zM334 394h1v1h-1zM335 392h1v2h-1zM336 391h1v1h-1zM337 392h1v2h-1zM338 394h1v2h-1zM339 392h1v2h-1zM340 390h1v5h-1zM341 395h1v9h-1zM342 404h1v5h-1zM343 404h1v3h-1zM344 400h1v4h-1zM345 398h1v2h-1zM346 399h1v1h-1zM347 399h1v1h-1zM348 400h1v1h-1zM349 400h1v1h-1zM350 399h1v2h-1zM351 396h1v3h-1zM352 393h1v3h-1zM353 391h1v2h-1zM354 391h1v1h-1zM355 390h1v1h-1zM356 389h1v2h-1zM357 385h1v4h-1zM358 382h1v3h-1zM359 383h1v1h-1zM360 383h1v1h-1zM361 384h1v1h-1zM362 384h1v1h-1zM363 384h1v1h-1zM364 383h1v1h-1zM365 383h1v1h-1zM366 383h1v1h-1zM367 384h1v2h-1zM368 386h1v1h-1zM369 385h1v1h-1zM370 385h1v1h-1zM371 384h1v1h-1zM372 384h1v1h-1zM373 384h1v1h-1zM374 384h1v1h-1zM375 384h1v1h-1zM376 384h1v1h-1zM377 384h1v1h-1zM378 384h1v1h-1zM379 383h1v1h-1zM380 383h1v1h-1zM381 383h1v1h-1zM382 384h1v1h-1zM383 384h1v1h-1zM384 385h1v2h-1zM385 387h1v2h-1zM386 385h1v2h-1zM387 382h1v3h-1zM388 380h1v2h-1zM389 378h1v2h-1zM390 377h1v1h-1zM391 375h1v2h-1zM392 374h1v2h-1zM393 376h1v3h-1zM394 379h1v2h-1zM395 379h1v1h-1zM396 378h1v1h-1zM397 378h1v1h-1zM398 377h1v1h-1zM399 377h1v1h-1zM400 376h1v1h-1zM401 376h1v1h-1zM402 377h1v2h-1zM403 379h1v2h-1zM404 381h1v3h-1zM405 384h1v2h-1zM406 386h1v2h-1zM407 388h1v2h-1zM408 390h1v2h-1zM409 392h1v2h-1zM410 393h1v1h-1zM411 392h1v1h-1zM412 392h1v2h-1zM413 394h1v2h-1zM414 396h1v2h-1zM415 398h1v2h-1zM416 400h1v2h-1zM417 402h1v1h-1zM418 403h1v2h-1zM419 405h1v1h-1zM420 404h1v1h-1zM421 403h1v1h-1zM422 402h1v1h-1zM423 402h1v1h-1zM424 402h1v1h-1zM425 402h1v1h-1zM426 402h1v1h-1zM427 402h1v1h-1zM428 402h1v1h-1zM429 403h1v1h-1zM430 404h1v1h-1zM431 404h1v1h-1zM432 405h1v1h-1zM433 406h1v1h-1zM434 407h1v1h-1zM435 408h1v2h-1zM436 410h1v1h-1zM437 411h1v1h-1zM438 412h1v2h-1zM439 409h1v6h-1zM440 401h1v8h-1zM441 399h1v2h-1zM442 397h1v2h-1zM443 397h1v1h-1zM444 396h1v1h-1zM445 396h1v1h-1zM446 397h1v2h-1zM447 399h1v2h-1zM448 397h1v2h-1zM449 394h1v3h-1zM450 392h1v2h-1zM451 394h1v3h-1zM452 393h1v2h-1zM453 391h1v2h-1zM454 389h1v2h-1zM455 387h1v2h-1zM456 385h1v2h-1zM457 384h1v1h-1zM458 384h1v1h-1zM459 383h1v1h-1zM460 383h1v1h-1zM461 384h1v1h-1zM462 385h1v1h-1zM463 385h1v1h-1zM464 386h1v1h-1zM465 386h1v1h-1zM466 387h1v1h-1zM467 387h1v1h-1zM468 388h1v1h-1zM469 389h1v1h-1zM470 390h1v1h-1zM471 391h1v1h-1zM472 392h1v1h-1zM473 390h1v2h-1zM474 388h1v2h-1zM475 388h1v1h-1zM476 388h1v1h-1zM477 389h1v1h-1zM478 389h1v1h-1zM479 389h1v1h-1zM480 389h1v1h-1zM481 390h1v1h-1zM482 390h1v1h-1zM483 390h1v1h-1zM484 389h1v1h-1zM485 388h1v1h-1zM486 388h1v1h-1zM487 389h1v1h-1zM488 389h1v1h-1zM489 388h1v2h-1zM490 384h1v4h-1zM491 380h1v4h-1zM492 378h1v2h-1zM493 377h1v1h-1zM494 376h1v1h-1zM495 377h1v1h-1zM496 377h1v1h-1zM497 378h1v1h-1z"/>
</g>
<!-- value boxes -->
<g shape-rendering="crispEdges">
<rect x="563" y="217" width="44" height="14" fill="#0000ff"/>
<rect x="563" y="231" width="44" height="14" fill="#000000"/>
<polygon points="563,245 607,245 607,259 563,259 556,252" fill="#ff0000"/>
<polygon points="563,371 607,371 607,385 563,385 556,378" fill="#000080"/>
<rect x="563" y="385" width="44" height="14" fill="#ff0000"/>
</g>
<!-- texts -->
<g font-size="11px" fill="#000">
<text x="20" y="44.2" textLength="158" lengthAdjust="spacing">EUR/USD - 30min - 3:19:27 (CET)</text>
<text x="20" y="57.3" textLength="182" lengthAdjust="spacing">Research © 2018 TRADING CENTRAL</text>
<text x="20" y="371" textLength="60.3" lengthAdjust="spacing">RSI14 - 9MA</text>
<text x="571" y="93" textLength="33" lengthAdjust="spacing" fill="#111">1.2057</text>
<text x="571" y="172" textLength="33" lengthAdjust="spacing" fill="#111">1.1994</text>
<text x="571" y="330" textLength="33" lengthAdjust="spacing" fill="#111">1.1868</text>
<text x="592" y="369" textLength="12" lengthAdjust="spacing" fill="#111">70</text>
<text x="592" y="407.5" textLength="12" lengthAdjust="spacing" fill="#111">30</text>
<text x="528" y="158" textLength="26" lengthAdjust="spacing" fill="#008000">1.201</text>
<text x="528" y="196" textLength="26" lengthAdjust="spacing" fill="#008000">1.198</text>
<text x="528" y="232.6" textLength="26" lengthAdjust="spacing" fill="#0000ff">1.195</text>
<text x="522" y="303" textLength="32" lengthAdjust="spacing" fill="#ff0000">1.1895</text>
<text x="528" y="321" textLength="26" lengthAdjust="spacing" fill="#ff0000">1.188</text>
<text x="522" y="353" textLength="32" lengthAdjust="spacing" fill="#ff0000">1.1855</text>
<text x="567.5" y="228" textLength="39" lengthAdjust="spacing" fill="#fff">1.19336</text>
<text x="567.5" y="242" textLength="39" lengthAdjust="spacing" fill="#fff">1.19335</text>
<text x="567.5" y="256" textLength="39" lengthAdjust="spacing" fill="#200000">1.19268</text>
<text x="567.3" y="382" textLength="39.2" lengthAdjust="spacing" fill="#fff">56.1382</text>
<text x="567.3" y="396" textLength="39.2" lengthAdjust="spacing" fill="#200000">51.0224</text>
<text x="67" y="431">2</text>
<text x="173" y="431">3</text>
<text x="278" y="431">4</text>
<text x="382" y="431">7</text>
<text x="487" y="431">8</text>
</g>
</svg>
</body></html>
